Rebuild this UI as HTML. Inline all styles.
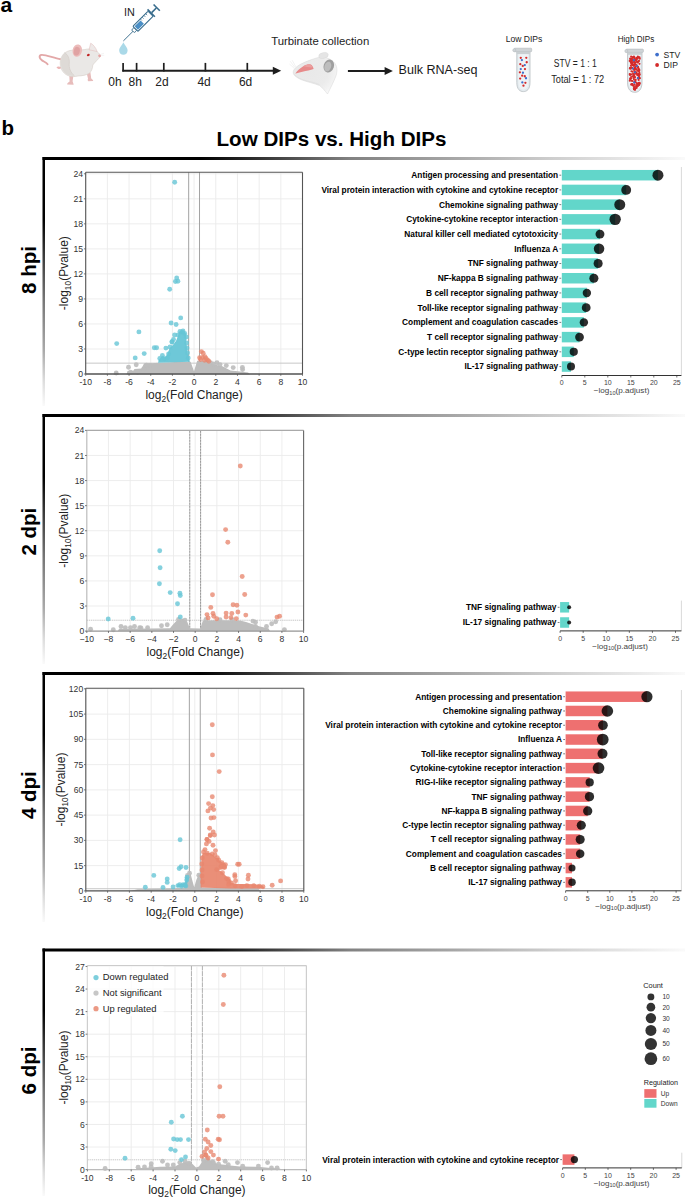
<!DOCTYPE html><html><head><meta charset="utf-8"><style>html,body{margin:0;padding:0;background:#fff;}svg{display:block;}</style></head><body>
<svg width="685" height="1200" viewBox="0 0 685 1200" font-family='"Liberation Sans", sans-serif'>
<defs>
<linearGradient id="gh" x1="0" y1="0" x2="1" y2="0"><stop offset="0" stop-color="#000"/><stop offset="0.245" stop-color="#000"/><stop offset="0.338" stop-color="#333"/><stop offset="0.479" stop-color="#828282"/><stop offset="0.634" stop-color="#a5a5a5"/><stop offset="0.79" stop-color="#cdcdcd"/><stop offset="0.946" stop-color="#eeeeee"/><stop offset="1" stop-color="#fafafa"/></linearGradient>
<linearGradient id="gv" x1="0" y1="0" x2="0" y2="1"><stop offset="0" stop-color="#000"/><stop offset="0.25" stop-color="#000"/><stop offset="0.375" stop-color="#333"/><stop offset="0.577" stop-color="#777"/><stop offset="0.778" stop-color="#aaa"/><stop offset="0.9" stop-color="#ddd"/><stop offset="1" stop-color="#fafafa"/></linearGradient>
</defs>
<rect width="685" height="1200" fill="#fff"/>
<text x="0.4" y="12.3" font-size="21" text-anchor="start" font-weight="700" fill="#000" >a</text>
<g>
<path d="M60.5,59.2 C54,58.4 46.5,54.6 41.6,54.9 C38.6,55.3 39.2,58.6 42,60.4 C44.2,61.8 46.3,62.5 47.6,64.3" fill="none" stroke="#e3a8a8" stroke-width="1.9" stroke-linecap="round"/>
<path d="M56.5,67.2 C57.5,66.2 60,66.3 61.2,67.4 L60.5,68.8 C59,69.2 57.2,68.8 56.5,67.2 Z" fill="#eab5b5"/>
<path d="M69.3,75 L69.6,81.5 C68.2,82.4 66.8,83.6 67.2,84.6 L73.6,84.8 C73.6,83.5 72.8,82.3 72.6,81.3 L73.4,75.5 Z" fill="#e7bcbb"/>
<path d="M86.6,73 L88,78.6 C87.6,79.8 87.5,80.8 88.4,81.2 L93.2,81.1 C93.1,80.2 92.3,79.4 91.2,78.6 L90.4,72.3 Z" fill="#e7bcbb"/>
<path d="M60.2,63 C60.2,55.5 65.5,50.5 72.5,50.2 C77,50 81,50.2 84.5,49.6 C87.5,48.8 91,48.6 94,49.8 C96.5,50.8 98.5,52.6 99.6,54.2 C100.6,55.2 100.8,56.2 100.2,57 C99,58.2 97.6,59.3 96.5,60.8 C95,62.6 93.6,63.6 92.8,65 C92.6,68.5 91.5,71.5 89,73.4 C86,75.3 82,75.8 78,76 C75,76.6 72.5,76.8 70,76.2 C64,74.8 60.2,69.5 60.2,63 Z" fill="#eae8e6" stroke="#d6cfc8" stroke-width="0.6"/>
<path d="M60.8,63 C60.8,69.2 64.5,74.2 70,75.6 C72,76 73.5,76 74.5,75.8 C70.5,72.5 68.8,68 69.3,63 C69.8,58.5 67.8,54.5 64.6,52.6 C62.2,55 60.8,58.5 60.8,63 Z" fill="#dedad6"/>
<path d="M64.6,52.6 C67.8,54.5 69.8,58.5 69.3,63 C68.8,68 70.5,72.5 74.5,75.8" fill="none" stroke="#cec7c0" stroke-width="0.5"/>
<path d="M89.1,49.8 L90.7,43.2 C93.3,44.6 95.8,47.6 97.1,51.5 Z" fill="#eee9e8" stroke="#e2c3c1" stroke-width="0.6"/>
<ellipse cx="77.3" cy="50.6" rx="4.7" ry="6.2" transform="rotate(12 77.3 50.6)" fill="#ecbcbb"/>
<ellipse cx="76.8" cy="51.2" rx="3" ry="4.4" transform="rotate(12 76.8 51.2)" fill="#e0a3a3"/>
<ellipse cx="88.3" cy="55" rx="1.5" ry="1.1" transform="rotate(-20 88.3 55)" fill="#c02424"/>
<circle cx="99.6" cy="55.8" r="1.4" fill="#e6a3a3"/>
<path d="M100.5,54.5 L104,53.2 M100.6,55.6 L104.3,55.3" stroke="#e4e4e4" stroke-width="0.4"/>
</g>
<text x="124.0" y="16.4" font-size="10.8" text-anchor="start" font-weight="400" fill="#222" >IN</text>
<g transform="translate(123.4,40.9) rotate(-45)">
<line x1="0" y1="0" x2="14" y2="0" stroke="#386c8c" stroke-width="0.9"/>
<rect x="13.5" y="-2" width="3.5" height="4" rx="1" fill="#fff" stroke="#386c8c" stroke-width="0.9"/>
<rect x="17" y="-3.6" width="21.5" height="7.2" rx="1" fill="#fff" stroke="#386c8c" stroke-width="1.1"/>
<rect x="18.2" y="-2.4" width="8.4" height="4.8" fill="#4b8fc6"/>
<line x1="27.5" y1="-3.6" x2="27.5" y2="-1.4" stroke="#386c8c" stroke-width="0.7"/>
<line x1="30" y1="-3.6" x2="30" y2="-1.4" stroke="#386c8c" stroke-width="0.7"/>
<line x1="32.5" y1="-3.6" x2="32.5" y2="-1.4" stroke="#386c8c" stroke-width="0.7"/>
<line x1="35" y1="-3.6" x2="35" y2="-1.4" stroke="#386c8c" stroke-width="0.7"/>
<rect x="38.5" y="-5.2" width="1.6" height="10.4" fill="#386c8c"/>
<rect x="40" y="-0.8" width="6.5" height="1.6" fill="#386c8c"/>
<rect x="46.3" y="-4.4" width="1.6" height="8.8" fill="#386c8c"/>
</g>
<path d="M123.4,42.3 C124.5,45 127.6,47.3 127.6,50.4 C127.6,53 125.7,54.7 123.4,54.7 C121.1,54.7 119.2,53 119.2,50.4 C119.2,47.3 122.3,45 123.4,42.3 Z" fill="#aad9e8"/>
<line x1="122.3" y1="70.7" x2="274" y2="70.7" stroke="#1e1e1e" stroke-width="2"/>
<path d="M272.8,66.8 L281.2,70.7 L272.8,74.8 Z" fill="#1e1e1e"/>
<line x1="123.1" y1="62.9" x2="123.1" y2="71.5" stroke="#1e1e1e" stroke-width="1.7"/>
<line x1="136.6" y1="62.9" x2="136.6" y2="71.5" stroke="#1e1e1e" stroke-width="1.7"/>
<line x1="163.8" y1="62.9" x2="163.8" y2="71.5" stroke="#1e1e1e" stroke-width="1.7"/>
<line x1="205.4" y1="62.9" x2="205.4" y2="71.5" stroke="#1e1e1e" stroke-width="1.7"/>
<line x1="247.3" y1="62.9" x2="247.3" y2="71.5" stroke="#1e1e1e" stroke-width="1.7"/>
<text x="115" y="85.5" font-size="12" text-anchor="middle" font-weight="400" fill="#222" >0h</text>
<text x="135.3" y="85.5" font-size="12" text-anchor="middle" font-weight="400" fill="#222" >8h</text>
<text x="161.9" y="85.5" font-size="12" text-anchor="middle" font-weight="400" fill="#222" >2d</text>
<text x="204.1" y="85.5" font-size="12" text-anchor="middle" font-weight="400" fill="#222" >4d</text>
<text x="245.6" y="85.5" font-size="12" text-anchor="middle" font-weight="400" fill="#222" >6d</text>
<text x="320.2" y="45.4" font-size="11.36" text-anchor="middle" font-weight="400" fill="#222" >Turbinate collection</text>
<defs><radialGradient id="hg" cx="0.35" cy="0.4" r="0.75"><stop offset="0" stop-color="#e9e9e9"/><stop offset="0.6" stop-color="#ebebeb"/><stop offset="0.85" stop-color="#f3f3f3"/><stop offset="1" stop-color="#fdfdfd"/></radialGradient></defs>
<path d="M293.2,71.8 C293.4,69.6 296,67 299.5,64.8 C303,62.8 307,61.2 311,59.8 C314.5,58.6 317.5,57.6 320,57.2 C325.5,56.6 331.5,59 335,63.5 C337.8,67.5 337.2,73 335.5,77 C333.5,82 330.5,88 327.5,94 C324.5,90.5 322.5,87.5 319.5,85.5 C314,83.2 307,82 301.5,79.8 C297.8,78.2 295,76.3 293.8,74.5 C293.2,73.6 293.1,72.6 293.2,71.8 Z" fill="url(#hg)" stroke="#d7d7d7" stroke-width="0.5"/>
<path d="M294,74.3 C297,77.3 301,79.3 306,80.6 C310,81.6 315,82.6 319.5,84.6" fill="none" stroke="#dadada" stroke-width="0.5"/>
<ellipse cx="323.5" cy="55.5" rx="4.8" ry="2.9" transform="rotate(-12 323.5 55.5)" fill="#e5e5e5" stroke="#d5d5d5" stroke-width="0.4"/>
<ellipse cx="328.8" cy="66" rx="5.2" ry="6.6" transform="rotate(18 328.8 66)" fill="#9f9f9f"/>
<ellipse cx="327.8" cy="66.6" rx="3.3" ry="5" transform="rotate(18 327.8 66.6)" fill="#bdbdbd"/>
<path d="M295.3,73.4 C297.5,70.6 300.5,67.8 304,65.8 C306.5,64.5 309,64 310.8,64.6 C312.3,65.6 313.4,67.3 313.6,69 C310.5,70.2 306.5,70.8 302.5,71.7 C299.5,72.4 297.2,73.3 295.3,73.4 Z" fill="#e78a8a"/>
<path d="M303.5,66.3 C306,64.8 308.5,64.2 310.5,64.8 C311.5,65.5 312.2,66.4 312.5,67.4 C309.5,67.6 306.5,67.2 303.5,66.3 Z" fill="#eba0a0"/>
<path d="M290.2,61.2 L295,67.6 M292.2,60.2 L295.8,66.8 M289.5,64 L294.5,68.6" stroke="#e2e2e2" stroke-width="0.45"/>
<line x1="347.9" y1="71" x2="386" y2="71" stroke="#1e1e1e" stroke-width="2"/>
<path d="M384.6,67.1 L392.9,71 L384.6,75 Z" fill="#1e1e1e"/>
<text x="398.6" y="74.4" font-size="12.55" text-anchor="start" font-weight="400" fill="#1a1a1a" >Bulk RNA-seq</text>
<text x="524.0" y="42.1" font-size="8.55" text-anchor="middle" font-weight="400" fill="#222" >Low DIPs</text>
<path d="M516.8,51.7 L516.8,82.35999999999996 C516.8,89.61999999999999 520.0999999999999,91.6 523.4,91.6 C526.7,91.6 530,89.61999999999999 530,82.35999999999996 L530,51.7 Z" fill="#e3eaee" stroke="#b7bec2" stroke-width="0.8"/>
<path d="M518.4,53.5 L518.4,82.35999999999996 C518.4,87.63999999999999 520.76,89.8 523.4,89.8 C526.04,89.8 528.4,87.63999999999999 528.4,82.35999999999996 L528.4,53.5 Z" fill="#eef3f6"/>
<rect x="514.1" y="48.2" width="17.600000000000023" height="3.5" rx="0.8" fill="#cfd4d7" stroke="#b3b9bc" stroke-width="0.6"/>
<ellipse cx="514.3000000000001" cy="50.25" rx="1.5" ry="1.6" fill="#cfd4d7" stroke="#b3b9bc" stroke-width="0.5"/>
<rect x="516.8" y="51.7" width="13.200000000000045" height="2.4" fill="#c9cfd2"/>
<circle cx="520.76" cy="57.85" r="1.15" fill="#d52b2b"/>
<circle cx="526.28" cy="57.85" r="1.15" fill="#d52b2b"/>
<circle cx="526.71" cy="62.23" r="1.15" fill="#d52b2b"/>
<circle cx="520.32" cy="64.15" r="1.15" fill="#d52b2b"/>
<circle cx="522.77" cy="65.90" r="1.15" fill="#d52b2b"/>
<circle cx="524.96" cy="69.06" r="1.15" fill="#d52b2b"/>
<circle cx="519.88" cy="72.30" r="1.15" fill="#d52b2b"/>
<circle cx="522.16" cy="75.63" r="1.15" fill="#d52b2b"/>
<circle cx="524.79" cy="76.24" r="1.15" fill="#d52b2b"/>
<circle cx="520.15" cy="78.60" r="1.15" fill="#d52b2b"/>
<circle cx="525.40" cy="82.81" r="1.15" fill="#d52b2b"/>
<circle cx="523.47" cy="85.70" r="1.15" fill="#d52b2b"/>
<circle cx="521.90" cy="60.04" r="1.15" fill="#3e6fcc"/>
<circle cx="524.79" cy="65.03" r="1.15" fill="#3e6fcc"/>
<circle cx="520.76" cy="69.06" r="1.15" fill="#3e6fcc"/>
<circle cx="522.95" cy="72.74" r="1.15" fill="#3e6fcc"/>
<circle cx="526.01" cy="78.25" r="1.15" fill="#3e6fcc"/>
<circle cx="522.34" cy="82.46" r="1.15" fill="#3e6fcc"/>
<text x="575.3" y="66.7" font-size="10" text-anchor="middle" font-weight="400" fill="#222" textLength="42.9" lengthAdjust="spacingAndGlyphs">STV = 1 : 1</text>
<text x="577.7" y="83.3" font-size="10.2" text-anchor="middle" font-weight="400" fill="#222" textLength="53" lengthAdjust="spacingAndGlyphs">Total = 1 : 72</text>
<text x="636.0" y="42.0" font-size="8.3" text-anchor="middle" font-weight="400" fill="#222" textLength="36.6" lengthAdjust="spacingAndGlyphs">High DIPs</text>
<path d="M627.5,52.4 L627.5,82.15 C627.5,90.125 631.125,92.3 634.75,92.3 C638.375,92.3 642,90.125 642,82.15 L642,52.4 Z" fill="#e3eaee" stroke="#b7bec2" stroke-width="0.8"/>
<path d="M629.1,54.199999999999996 L629.1,82.15 C629.1,87.95 631.85,90.5 634.75,90.5 C637.65,90.5 640.4,87.95 640.4,82.15 L640.4,54.199999999999996 Z" fill="#eef3f6"/>
<rect x="626.1" y="49.1" width="17.299999999999955" height="3.299999999999997" rx="0.8" fill="#cfd4d7" stroke="#b3b9bc" stroke-width="0.6"/>
<ellipse cx="626.3000000000001" cy="51.05" rx="1.5" ry="1.6" fill="#cfd4d7" stroke="#b3b9bc" stroke-width="0.5"/>
<rect x="627.5" y="52.4" width="14.5" height="2.4" fill="#c9cfd2"/>
<circle cx="631.12" cy="67.35" r="1.05" fill="#d42b2b"/>
<circle cx="630.30" cy="78.31" r="1.05" fill="#d42b2b"/>
<circle cx="633.35" cy="74.45" r="1.05" fill="#d42b2b"/>
<circle cx="634.83" cy="58.44" r="1.05" fill="#d42b2b"/>
<circle cx="634.06" cy="57.76" r="1.05" fill="#d42b2b"/>
<circle cx="630.49" cy="58.84" r="1.05" fill="#d42b2b"/>
<circle cx="638.15" cy="70.72" r="1.05" fill="#d42b2b"/>
<circle cx="631.87" cy="60.65" r="1.05" fill="#d42b2b"/>
<circle cx="639.41" cy="77.52" r="1.05" fill="#d42b2b"/>
<circle cx="633.68" cy="75.83" r="1.05" fill="#d42b2b"/>
<circle cx="634.05" cy="89.20" r="1.05" fill="#d42b2b"/>
<circle cx="633.01" cy="85.26" r="1.05" fill="#d42b2b"/>
<circle cx="630.78" cy="61.33" r="1.05" fill="#d42b2b"/>
<circle cx="638.04" cy="66.83" r="1.05" fill="#d42b2b"/>
<circle cx="635.60" cy="62.55" r="1.05" fill="#d42b2b"/>
<circle cx="633.42" cy="77.90" r="1.05" fill="#d42b2b"/>
<circle cx="630.20" cy="74.85" r="1.05" fill="#d42b2b"/>
<circle cx="631.69" cy="58.50" r="1.05" fill="#d42b2b"/>
<circle cx="634.00" cy="79.29" r="1.05" fill="#d42b2b"/>
<circle cx="635.64" cy="67.02" r="1.05" fill="#d42b2b"/>
<circle cx="632.67" cy="71.68" r="1.05" fill="#d42b2b"/>
<circle cx="636.82" cy="83.11" r="1.05" fill="#d42b2b"/>
<circle cx="635.52" cy="64.68" r="1.05" fill="#d42b2b"/>
<circle cx="638.65" cy="74.09" r="1.05" fill="#d42b2b"/>
<circle cx="632.54" cy="80.94" r="1.05" fill="#d42b2b"/>
<circle cx="634.24" cy="89.34" r="1.05" fill="#d42b2b"/>
<circle cx="637.42" cy="70.51" r="1.05" fill="#d42b2b"/>
<circle cx="634.64" cy="61.59" r="1.05" fill="#d42b2b"/>
<circle cx="636.50" cy="57.81" r="1.05" fill="#d42b2b"/>
<circle cx="635.51" cy="82.11" r="1.05" fill="#d42b2b"/>
<circle cx="633.39" cy="85.83" r="1.05" fill="#d42b2b"/>
<circle cx="635.73" cy="79.79" r="1.05" fill="#d42b2b"/>
<circle cx="634.29" cy="75.93" r="1.05" fill="#d42b2b"/>
<circle cx="638.89" cy="84.64" r="1.05" fill="#d42b2b"/>
<circle cx="636.46" cy="72.38" r="1.05" fill="#d42b2b"/>
<circle cx="636.85" cy="58.53" r="1.05" fill="#d42b2b"/>
<circle cx="639.88" cy="78.18" r="1.05" fill="#d42b2b"/>
<circle cx="632.52" cy="84.03" r="1.05" fill="#d42b2b"/>
<circle cx="636.50" cy="69.42" r="1.05" fill="#d42b2b"/>
<circle cx="634.35" cy="57.26" r="1.05" fill="#d42b2b"/>
<circle cx="630.77" cy="62.13" r="1.05" fill="#d42b2b"/>
<circle cx="637.54" cy="58.47" r="1.05" fill="#d42b2b"/>
<circle cx="632.13" cy="60.83" r="1.05" fill="#d42b2b"/>
<circle cx="638.61" cy="69.60" r="1.05" fill="#d42b2b"/>
<circle cx="634.22" cy="59.20" r="1.05" fill="#d42b2b"/>
<circle cx="638.74" cy="74.91" r="1.05" fill="#d42b2b"/>
<circle cx="638.54" cy="83.95" r="1.05" fill="#d42b2b"/>
<circle cx="633.87" cy="65.83" r="1.05" fill="#d42b2b"/>
<circle cx="638.75" cy="68.52" r="1.05" fill="#d42b2b"/>
<circle cx="633.84" cy="88.58" r="1.05" fill="#d42b2b"/>
<circle cx="631.96" cy="62.40" r="1.05" fill="#d42b2b"/>
<circle cx="634.59" cy="64.32" r="1.05" fill="#d42b2b"/>
<circle cx="632.28" cy="76.24" r="1.05" fill="#d42b2b"/>
<circle cx="633.91" cy="56.64" r="1.05" fill="#d42b2b"/>
<circle cx="635.44" cy="68.87" r="1.05" fill="#d42b2b"/>
<circle cx="635.30" cy="88.43" r="1.05" fill="#d42b2b"/>
<circle cx="635.97" cy="73.77" r="1.05" fill="#d42b2b"/>
<circle cx="630.11" cy="79.15" r="1.05" fill="#d42b2b"/>
<circle cx="636.41" cy="86.63" r="1.05" fill="#d42b2b"/>
<circle cx="636.94" cy="85.80" r="1.05" fill="#d42b2b"/>
<circle cx="633.70" cy="69.64" r="1.05" fill="#d42b2b"/>
<circle cx="636.15" cy="59.97" r="1.05" fill="#d42b2b"/>
<circle cx="630.25" cy="58.59" r="1.05" fill="#d42b2b"/>
<circle cx="631.24" cy="63.49" r="1.05" fill="#d42b2b"/>
<circle cx="630.10" cy="67.89" r="1.05" fill="#d42b2b"/>
<circle cx="631.12" cy="56.51" r="1.05" fill="#d42b2b"/>
<circle cx="633.33" cy="59.90" r="1.05" fill="#d42b2b"/>
<circle cx="638.64" cy="57.35" r="1.05" fill="#d42b2b"/>
<circle cx="631.09" cy="77.07" r="1.05" fill="#d42b2b"/>
<circle cx="633.16" cy="64.95" r="1.05" fill="#d42b2b"/>
<circle cx="630.83" cy="68.70" r="1.05" fill="#d42b2b"/>
<circle cx="639.09" cy="84.94" r="1.05" fill="#d42b2b"/>
<circle cx="634.58" cy="72.11" r="1.05" fill="#d42b2b"/>
<circle cx="630.61" cy="59.38" r="1.05" fill="#d42b2b"/>
<circle cx="632.30" cy="67.98" r="1.05" fill="#d42b2b"/>
<circle cx="631.38" cy="84.27" r="1.05" fill="#d42b2b"/>
<circle cx="639.44" cy="57.27" r="1.05" fill="#d42b2b"/>
<circle cx="631.07" cy="74.20" r="1.05" fill="#d42b2b"/>
<circle cx="629.83" cy="74.70" r="1.05" fill="#d42b2b"/>
<circle cx="639.73" cy="74.19" r="1.05" fill="#d42b2b"/>
<circle cx="636.32" cy="85.42" r="1.05" fill="#d42b2b"/>
<circle cx="633.36" cy="65.25" r="1.05" fill="#d42b2b"/>
<circle cx="637.58" cy="62.10" r="1.05" fill="#d42b2b"/>
<circle cx="637.65" cy="74.34" r="1.05" fill="#d42b2b"/>
<circle cx="631.87" cy="67.54" r="1.05" fill="#d42b2b"/>
<circle cx="639.79" cy="83.69" r="1.05" fill="#d42b2b"/>
<circle cx="637.38" cy="85.06" r="1.05" fill="#d42b2b"/>
<circle cx="637.24" cy="83.91" r="1.05" fill="#d42b2b"/>
<circle cx="634.93" cy="64.10" r="1.05" fill="#d42b2b"/>
<circle cx="629.85" cy="68.41" r="1.05" fill="#d42b2b"/>
<circle cx="632.46" cy="57.44" r="1.05" fill="#d42b2b"/>
<circle cx="636.75" cy="65.18" r="1.05" fill="#d42b2b"/>
<circle cx="634.61" cy="88.54" r="1.05" fill="#d42b2b"/>
<circle cx="636.60" cy="87.89" r="1.05" fill="#d42b2b"/>
<circle cx="634.38" cy="88.49" r="1.05" fill="#d42b2b"/>
<circle cx="631.91" cy="63.89" r="1.05" fill="#d42b2b"/>
<circle cx="631.68" cy="63.09" r="1.05" fill="#d42b2b"/>
<circle cx="638.91" cy="77.41" r="1.05" fill="#d42b2b"/>
<circle cx="634.56" cy="84.65" r="1.05" fill="#d42b2b"/>
<circle cx="637.87" cy="78.37" r="1.05" fill="#d42b2b"/>
<circle cx="636.42" cy="59.34" r="1.05" fill="#d42b2b"/>
<circle cx="636.26" cy="86.98" r="1.05" fill="#d42b2b"/>
<circle cx="634.52" cy="81.63" r="1.05" fill="#d42b2b"/>
<circle cx="637.76" cy="62.48" r="1.05" fill="#d42b2b"/>
<circle cx="637.88" cy="67.64" r="1.05" fill="#d42b2b"/>
<circle cx="634.56" cy="89.05" r="1.05" fill="#d42b2b"/>
<circle cx="639.40" cy="69.95" r="1.05" fill="#d42b2b"/>
<circle cx="631.32" cy="80.78" r="1.05" fill="#d42b2b"/>
<circle cx="631.12" cy="60.76" r="1.05" fill="#d42b2b"/>
<circle cx="636.47" cy="86.81" r="1.05" fill="#d42b2b"/>
<circle cx="638.15" cy="61.40" r="1.05" fill="#d42b2b"/>
<circle cx="634.96" cy="89.34" r="1.05" fill="#d42b2b"/>
<circle cx="635.26" cy="68.24" r="1.05" fill="#d42b2b"/>
<circle cx="629.70" cy="60.89" r="1.05" fill="#d42b2b"/>
<circle cx="635.03" cy="89.02" r="1.05" fill="#d42b2b"/>
<circle cx="639.26" cy="74.14" r="1.05" fill="#d42b2b"/>
<circle cx="638.62" cy="71.03" r="1.05" fill="#d42b2b"/>
<circle cx="631.83" cy="84.18" r="1.05" fill="#d42b2b"/>
<circle cx="632.60" cy="64.94" r="1.05" fill="#d42b2b"/>
<circle cx="635.65" cy="64.56" r="1.05" fill="#d42b2b"/>
<circle cx="633.91" cy="65.19" r="1.05" fill="#d42b2b"/>
<circle cx="639.01" cy="60.89" r="1.05" fill="#d42b2b"/>
<circle cx="634.31" cy="68.35" r="1.05" fill="#d42b2b"/>
<circle cx="638.95" cy="76.04" r="1.05" fill="#d42b2b"/>
<circle cx="639.09" cy="70.59" r="1.05" fill="#d42b2b"/>
<circle cx="635.08" cy="73.31" r="1.05" fill="#d42b2b"/>
<circle cx="629.74" cy="74.04" r="1.05" fill="#d42b2b"/>
<circle cx="631.45" cy="71.24" r="1.05" fill="#d42b2b"/>
<circle cx="637.86" cy="56.63" r="1.05" fill="#d42b2b"/>
<circle cx="634.47" cy="62.27" r="1.05" fill="#d42b2b"/>
<circle cx="635.34" cy="80.79" r="1.05" fill="#d42b2b"/>
<circle cx="634.94" cy="67.42" r="1.05" fill="#d42b2b"/>
<circle cx="637.71" cy="75.11" r="1.05" fill="#d42b2b"/>
<circle cx="635.38" cy="60.05" r="1.05" fill="#d42b2b"/>
<circle cx="632.43" cy="64.82" r="1.05" fill="#d42b2b"/>
<circle cx="634.83" cy="82.37" r="1.05" fill="#d42b2b"/>
<circle cx="637.45" cy="75.32" r="1.05" fill="#d42b2b"/>
<circle cx="634.46" cy="87.07" r="1.05" fill="#d42b2b"/>
<circle cx="634.81" cy="77.02" r="1.05" fill="#d42b2b"/>
<circle cx="636.75" cy="73.66" r="1.05" fill="#d42b2b"/>
<circle cx="635.10" cy="71.65" r="1.05" fill="#d42b2b"/>
<circle cx="639.34" cy="72.51" r="1.05" fill="#d42b2b"/>
<circle cx="638.67" cy="79.92" r="1.05" fill="#d42b2b"/>
<circle cx="633.91" cy="88.06" r="1.05" fill="#d42b2b"/>
<circle cx="639.36" cy="75.24" r="1.05" fill="#d42b2b"/>
<circle cx="631.37" cy="84.64" r="1.05" fill="#d42b2b"/>
<circle cx="634.15" cy="60.57" r="1.05" fill="#d42b2b"/>
<circle cx="632.05" cy="58.93" r="1.05" fill="#d42b2b"/>
<circle cx="636.51" cy="58.95" r="1.05" fill="#d42b2b"/>
<circle cx="638.88" cy="82.76" r="1.05" fill="#d42b2b"/>
<circle cx="637.00" cy="61.67" r="1.05" fill="#d42b2b"/>
<circle cx="631.04" cy="78.62" r="1.05" fill="#d42b2b"/>
<circle cx="637.96" cy="86.07" r="1.05" fill="#d42b2b"/>
<circle cx="639.46" cy="63.86" r="1.05" fill="#d42b2b"/>
<circle cx="634.62" cy="69.84" r="1.05" fill="#d42b2b"/>
<circle cx="635.08" cy="89.66" r="1.05" fill="#d42b2b"/>
<circle cx="634.04" cy="61.91" r="1.05" fill="#d42b2b"/>
<circle cx="633.08" cy="73.77" r="1.05" fill="#d42b2b"/>
<circle cx="632.86" cy="63.06" r="1.05" fill="#d42b2b"/>
<circle cx="629.75" cy="80.69" r="1.05" fill="#d42b2b"/>
<circle cx="634.13" cy="75.06" r="1.05" fill="#d42b2b"/>
<circle cx="633.00" cy="57.11" r="1.05" fill="#d42b2b"/>
<circle cx="634.88" cy="77.40" r="1.05" fill="#d42b2b"/>
<circle cx="639.79" cy="58.65" r="1.05" fill="#d42b2b"/>
<circle cx="639.66" cy="82.91" r="1.05" fill="#d42b2b"/>
<circle cx="632.31" cy="60.01" r="1.05" fill="#d42b2b"/>
<circle cx="637.65" cy="57.83" r="1.05" fill="#d42b2b"/>
<circle cx="630.90" cy="65.56" r="1.05" fill="#d42b2b"/>
<circle cx="639.03" cy="70.65" r="1.05" fill="#d42b2b"/>
<circle cx="632.24" cy="83.94" r="1.05" fill="#d42b2b"/>
<circle cx="633.87" cy="60.26" r="1.15" fill="#3e6fcc"/>
<circle cx="636.83" cy="66.06" r="1.15" fill="#3e6fcc"/>
<circle cx="632.99" cy="68.58" r="1.15" fill="#3e6fcc"/>
<circle cx="634.96" cy="72.30" r="1.15" fill="#3e6fcc"/>
<circle cx="637.92" cy="78.10" r="1.15" fill="#3e6fcc"/>
<circle cx="634.31" cy="82.48" r="1.15" fill="#3e6fcc"/>
<circle cx="657.1" cy="54.6" r="1.9" fill="#3e6fcc"/>
<circle cx="657.1" cy="65" r="1.9" fill="#d42b2b"/>
<text x="663.6" y="58.2" font-size="8.6" text-anchor="start" font-weight="400" fill="#222" >STV</text>
<text x="663.6" y="68.4" font-size="8.6" text-anchor="start" font-weight="400" fill="#222" >DIP</text>
<text x="1.50" y="135.00" font-size="20.5" text-anchor="start" font-weight="700" fill="#000" >b</text>
<text x="331.50" y="145.60" font-size="20.6" text-anchor="middle" font-weight="700" fill="#000" >Low DIPs vs. High DIPs</text>
<rect x="42.5" y="157" width="642.5" height="3" fill="url(#gh)"/>
<rect x="42.5" y="157" width="2.5" height="249" fill="url(#gv)"/>
<rect x="42.5" y="414" width="642.5" height="3" fill="url(#gh)"/>
<rect x="42.5" y="414" width="2.5" height="250" fill="url(#gv)"/>
<rect x="42.5" y="672" width="642.5" height="3" fill="url(#gh)"/>
<rect x="42.5" y="672" width="2.5" height="250" fill="url(#gv)"/>
<rect x="42.5" y="948.5" width="642.5" height="3" fill="url(#gh)"/>
<rect x="42.5" y="948.5" width="2.5" height="247.5" fill="url(#gv)"/>
<text transform="translate(36.2,270) rotate(-90)" font-size="20.5" font-weight="700" text-anchor="middle">8 hpi</text>
<text transform="translate(36.2,531.6) rotate(-90)" font-size="20.5" font-weight="700" text-anchor="middle">2 dpi</text>
<text transform="translate(36.2,795.2) rotate(-90)" font-size="20.5" font-weight="700" text-anchor="middle">4 dpi</text>
<text transform="translate(36.2,1070.5) rotate(-90)" font-size="20.5" font-weight="700" text-anchor="middle">6 dpi</text>
<line x1="85.70" y1="172.30" x2="85.70" y2="374.00" stroke="#ebebeb" stroke-width="0.9"/>
<line x1="107.38" y1="172.30" x2="107.38" y2="374.00" stroke="#ebebeb" stroke-width="0.9"/>
<line x1="129.06" y1="172.30" x2="129.06" y2="374.00" stroke="#ebebeb" stroke-width="0.9"/>
<line x1="150.74" y1="172.30" x2="150.74" y2="374.00" stroke="#ebebeb" stroke-width="0.9"/>
<line x1="172.42" y1="172.30" x2="172.42" y2="374.00" stroke="#ebebeb" stroke-width="0.9"/>
<line x1="194.10" y1="172.30" x2="194.10" y2="374.00" stroke="#ebebeb" stroke-width="0.9"/>
<line x1="215.78" y1="172.30" x2="215.78" y2="374.00" stroke="#ebebeb" stroke-width="0.9"/>
<line x1="237.46" y1="172.30" x2="237.46" y2="374.00" stroke="#ebebeb" stroke-width="0.9"/>
<line x1="259.14" y1="172.30" x2="259.14" y2="374.00" stroke="#ebebeb" stroke-width="0.9"/>
<line x1="280.82" y1="172.30" x2="280.82" y2="374.00" stroke="#ebebeb" stroke-width="0.9"/>
<line x1="302.50" y1="172.30" x2="302.50" y2="374.00" stroke="#ebebeb" stroke-width="0.9"/>
<line x1="85.70" y1="374.00" x2="302.50" y2="374.00" stroke="#ebebeb" stroke-width="0.9"/>
<line x1="85.70" y1="348.97" x2="302.50" y2="348.97" stroke="#ebebeb" stroke-width="0.9"/>
<line x1="85.70" y1="323.95" x2="302.50" y2="323.95" stroke="#ebebeb" stroke-width="0.9"/>
<line x1="85.70" y1="298.92" x2="302.50" y2="298.92" stroke="#ebebeb" stroke-width="0.9"/>
<line x1="85.70" y1="273.90" x2="302.50" y2="273.90" stroke="#ebebeb" stroke-width="0.9"/>
<line x1="85.70" y1="248.87" x2="302.50" y2="248.87" stroke="#ebebeb" stroke-width="0.9"/>
<line x1="85.70" y1="223.84" x2="302.50" y2="223.84" stroke="#ebebeb" stroke-width="0.9"/>
<line x1="85.70" y1="198.82" x2="302.50" y2="198.82" stroke="#ebebeb" stroke-width="0.9"/>
<line x1="85.70" y1="173.79" x2="302.50" y2="173.79" stroke="#ebebeb" stroke-width="0.9"/>
<line x1="85.70" y1="363.15" x2="302.50" y2="363.15" stroke="#c8c8c8" stroke-width="1" />
<line x1="188.68" y1="172.30" x2="188.68" y2="374.00" stroke="#a3a3a3" stroke-width="1" />
<line x1="199.52" y1="172.30" x2="199.52" y2="374.00" stroke="#a3a3a3" stroke-width="1" />
<polygon points="113.50,374.40 115.00,371.60 117.50,371.60 119.00,374.40" fill="#bdbdbd" fill-opacity="1"/>
<polygon points="126.50,374.40 127.50,371.00 133.00,371.00 134.50,369.00 141.50,368.50 142.80,366.00 144.00,363.60 150.00,363.30 160.00,362.80 170.00,362.20 180.00,361.80 190.60,361.80 194.00,371.20 197.20,360.80 207.00,360.80 209.40,363.20 213.80,364.30 219.60,365.80 222.50,366.20 227.60,369.10 230.50,370.50 240.00,371.50 248.10,372.40 250.00,374.40" fill="#bdbdbd" fill-opacity="1"/>
<circle cx="128.50" cy="367.20" r="2.45" fill="#bdbdbd" fill-opacity="0.9"/>
<circle cx="136.20" cy="364.70" r="2.45" fill="#bdbdbd" fill-opacity="0.9"/>
<circle cx="130.70" cy="372.30" r="2.45" fill="#bdbdbd" fill-opacity="0.9"/>
<circle cx="143.70" cy="369.00" r="2.45" fill="#bdbdbd" fill-opacity="0.9"/>
<circle cx="116.20" cy="373.00" r="2.45" fill="#bdbdbd" fill-opacity="0.9"/>
<circle cx="137.60" cy="372.30" r="2.45" fill="#bdbdbd" fill-opacity="0.9"/>
<circle cx="217.00" cy="362.80" r="2.45" fill="#bdbdbd" fill-opacity="0.9"/>
<circle cx="226.30" cy="365.60" r="2.45" fill="#bdbdbd" fill-opacity="0.9"/>
<circle cx="233.20" cy="367.60" r="2.45" fill="#bdbdbd" fill-opacity="0.9"/>
<circle cx="242.40" cy="367.50" r="2.45" fill="#bdbdbd" fill-opacity="0.9"/>
<circle cx="242.60" cy="369.60" r="2.45" fill="#bdbdbd" fill-opacity="0.9"/>
<circle cx="210.50" cy="362.60" r="2.45" fill="#bdbdbd" fill-opacity="0.9"/>
<circle cx="213.50" cy="364.00" r="2.45" fill="#bdbdbd" fill-opacity="0.9"/>
<circle cx="220.00" cy="364.60" r="2.45" fill="#bdbdbd" fill-opacity="0.9"/>
<circle cx="146.50" cy="365.20" r="2.45" fill="#bdbdbd" fill-opacity="0.9"/>
<circle cx="150.00" cy="365.50" r="2.45" fill="#bdbdbd" fill-opacity="0.9"/>
<polygon points="179.20,331.60 182.10,330.50 185.80,333.00 186.50,338.10 186.10,342.50 186.90,346.90 187.60,352.70 188.40,357.10 190.00,361.80 158.00,362.80 158.80,360.00 161.50,356.50 163.00,356.00 165.00,357.50 167.00,355.00 169.70,348.00 172.50,345.50 176.00,341.00 177.70,336.70" fill="#66c5d6" fill-opacity="0.9500000000000001"/>
<circle cx="174.70" cy="182.20" r="2.45" fill="#66c5d6" fill-opacity="0.8"/>
<circle cx="176.70" cy="277.90" r="2.45" fill="#66c5d6" fill-opacity="0.8"/>
<circle cx="175.40" cy="281.50" r="2.45" fill="#66c5d6" fill-opacity="0.8"/>
<circle cx="177.90" cy="281.30" r="2.45" fill="#66c5d6" fill-opacity="0.8"/>
<circle cx="169.70" cy="289.20" r="2.45" fill="#66c5d6" fill-opacity="0.8"/>
<circle cx="180.70" cy="317.90" r="2.45" fill="#66c5d6" fill-opacity="0.8"/>
<circle cx="171.10" cy="323.00" r="2.45" fill="#66c5d6" fill-opacity="0.8"/>
<circle cx="176.10" cy="324.50" r="2.45" fill="#66c5d6" fill-opacity="0.8"/>
<circle cx="138.90" cy="331.90" r="2.45" fill="#66c5d6" fill-opacity="0.8"/>
<circle cx="116.70" cy="343.60" r="2.45" fill="#66c5d6" fill-opacity="0.8"/>
<circle cx="135.20" cy="357.90" r="2.45" fill="#66c5d6" fill-opacity="0.8"/>
<circle cx="144.20" cy="353.60" r="2.45" fill="#66c5d6" fill-opacity="0.8"/>
<circle cx="154.30" cy="347.80" r="2.45" fill="#66c5d6" fill-opacity="0.8"/>
<circle cx="156.60" cy="347.80" r="2.45" fill="#66c5d6" fill-opacity="0.8"/>
<circle cx="165.90" cy="348.10" r="2.45" fill="#66c5d6" fill-opacity="0.8"/>
<circle cx="168.60" cy="354.00" r="2.45" fill="#66c5d6" fill-opacity="0.8"/>
<circle cx="172.10" cy="342.00" r="2.45" fill="#66c5d6" fill-opacity="0.8"/>
<circle cx="170.00" cy="347.00" r="2.45" fill="#66c5d6" fill-opacity="0.8"/>
<circle cx="174.60" cy="335.00" r="2.45" fill="#66c5d6" fill-opacity="0.8"/>
<circle cx="171.90" cy="341.80" r="2.45" fill="#66c5d6" fill-opacity="0.8"/>
<circle cx="182.30" cy="332.30" r="2.45" fill="#66c5d6" fill-opacity="0.8"/>
<circle cx="184.70" cy="333.50" r="2.45" fill="#66c5d6" fill-opacity="0.8"/>
<circle cx="180.00" cy="331.50" r="2.45" fill="#66c5d6" fill-opacity="0.8"/>
<circle cx="162.40" cy="355.40" r="2.45" fill="#66c5d6" fill-opacity="0.8"/>
<circle cx="159.80" cy="358.50" r="2.45" fill="#66c5d6" fill-opacity="0.8"/>
<circle cx="164.50" cy="358.80" r="2.45" fill="#66c5d6" fill-opacity="0.8"/>
<circle cx="167.50" cy="357.80" r="2.45" fill="#66c5d6" fill-opacity="0.8"/>
<circle cx="186.30" cy="337.00" r="2.45" fill="#66c5d6" fill-opacity="0.8"/>
<circle cx="186.60" cy="343.00" r="2.45" fill="#66c5d6" fill-opacity="0.8"/>
<circle cx="187.00" cy="348.00" r="2.45" fill="#66c5d6" fill-opacity="0.8"/>
<circle cx="187.50" cy="353.00" r="2.45" fill="#66c5d6" fill-opacity="0.8"/>
<circle cx="188.20" cy="358.00" r="2.45" fill="#66c5d6" fill-opacity="0.8"/>
<circle cx="183.00" cy="331.00" r="2.45" fill="#66c5d6" fill-opacity="0.8"/>
<circle cx="178.00" cy="335.00" r="2.45" fill="#66c5d6" fill-opacity="0.8"/>
<circle cx="173.50" cy="339.50" r="2.45" fill="#66c5d6" fill-opacity="0.8"/>
<circle cx="201.40" cy="351.60" r="2.45" fill="#e8876e" fill-opacity="0.78"/>
<circle cx="203.20" cy="353.20" r="2.45" fill="#e8876e" fill-opacity="0.78"/>
<circle cx="199.60" cy="357.80" r="2.45" fill="#e8876e" fill-opacity="0.78"/>
<circle cx="202.50" cy="357.50" r="2.45" fill="#e8876e" fill-opacity="0.78"/>
<circle cx="204.90" cy="356.60" r="2.45" fill="#e8876e" fill-opacity="0.78"/>
<circle cx="207.50" cy="360.00" r="2.45" fill="#e8876e" fill-opacity="0.78"/>
<circle cx="208.80" cy="361.20" r="2.45" fill="#e8876e" fill-opacity="0.78"/>
<circle cx="204.50" cy="360.30" r="2.45" fill="#e8876e" fill-opacity="0.78"/>
<circle cx="200.50" cy="359.50" r="2.45" fill="#e8876e" fill-opacity="0.78"/>
<circle cx="206.00" cy="358.50" r="2.45" fill="#e8876e" fill-opacity="0.78"/>
<line x1="85.70" y1="172.30" x2="302.50" y2="172.30" stroke="#555" stroke-width="1.1"/>
<line x1="302.50" y1="172.30" x2="302.50" y2="374.00" stroke="#555" stroke-width="1.1"/>
<line x1="85.70" y1="374.00" x2="302.50" y2="374.00" stroke="#555" stroke-width="1.3"/>
<line x1="85.70" y1="172.30" x2="85.70" y2="374.00" stroke="#555" stroke-width="1.1"/>
<line x1="83.90" y1="374.00" x2="85.70" y2="374.00" stroke="#555" stroke-width="0.8"/>
<text x="83.10" y="377.10" font-size="8.6" text-anchor="end" font-weight="400" fill="#333" >0</text>
<line x1="83.90" y1="348.97" x2="85.70" y2="348.97" stroke="#555" stroke-width="0.8"/>
<text x="83.10" y="352.07" font-size="8.6" text-anchor="end" font-weight="400" fill="#333" >3</text>
<line x1="83.90" y1="323.95" x2="85.70" y2="323.95" stroke="#555" stroke-width="0.8"/>
<text x="83.10" y="327.05" font-size="8.6" text-anchor="end" font-weight="400" fill="#333" >6</text>
<line x1="83.90" y1="298.92" x2="85.70" y2="298.92" stroke="#555" stroke-width="0.8"/>
<text x="83.10" y="302.02" font-size="8.6" text-anchor="end" font-weight="400" fill="#333" >9</text>
<line x1="83.90" y1="273.90" x2="85.70" y2="273.90" stroke="#555" stroke-width="0.8"/>
<text x="83.10" y="277.00" font-size="8.6" text-anchor="end" font-weight="400" fill="#333" >12</text>
<line x1="83.90" y1="248.87" x2="85.70" y2="248.87" stroke="#555" stroke-width="0.8"/>
<text x="83.10" y="251.97" font-size="8.6" text-anchor="end" font-weight="400" fill="#333" >15</text>
<line x1="83.90" y1="223.84" x2="85.70" y2="223.84" stroke="#555" stroke-width="0.8"/>
<text x="83.10" y="226.94" font-size="8.6" text-anchor="end" font-weight="400" fill="#333" >18</text>
<line x1="83.90" y1="198.82" x2="85.70" y2="198.82" stroke="#555" stroke-width="0.8"/>
<text x="83.10" y="201.92" font-size="8.6" text-anchor="end" font-weight="400" fill="#333" >21</text>
<line x1="83.90" y1="173.79" x2="85.70" y2="173.79" stroke="#555" stroke-width="0.8"/>
<text x="83.10" y="176.89" font-size="8.6" text-anchor="end" font-weight="400" fill="#333" >24</text>
<line x1="85.70" y1="374.00" x2="85.70" y2="375.80" stroke="#555" stroke-width="0.8"/>
<text x="85.70" y="385.00" font-size="8.6" text-anchor="middle" font-weight="400" fill="#333" >-10</text>
<line x1="107.38" y1="374.00" x2="107.38" y2="375.80" stroke="#555" stroke-width="0.8"/>
<text x="107.38" y="385.00" font-size="8.6" text-anchor="middle" font-weight="400" fill="#333" >-8</text>
<line x1="129.06" y1="374.00" x2="129.06" y2="375.80" stroke="#555" stroke-width="0.8"/>
<text x="129.06" y="385.00" font-size="8.6" text-anchor="middle" font-weight="400" fill="#333" >-6</text>
<line x1="150.74" y1="374.00" x2="150.74" y2="375.80" stroke="#555" stroke-width="0.8"/>
<text x="150.74" y="385.00" font-size="8.6" text-anchor="middle" font-weight="400" fill="#333" >-4</text>
<line x1="172.42" y1="374.00" x2="172.42" y2="375.80" stroke="#555" stroke-width="0.8"/>
<text x="172.42" y="385.00" font-size="8.6" text-anchor="middle" font-weight="400" fill="#333" >-2</text>
<line x1="194.10" y1="374.00" x2="194.10" y2="375.80" stroke="#555" stroke-width="0.8"/>
<text x="194.10" y="385.00" font-size="8.6" text-anchor="middle" font-weight="400" fill="#333" >0</text>
<line x1="215.78" y1="374.00" x2="215.78" y2="375.80" stroke="#555" stroke-width="0.8"/>
<text x="215.78" y="385.00" font-size="8.6" text-anchor="middle" font-weight="400" fill="#333" >2</text>
<line x1="237.46" y1="374.00" x2="237.46" y2="375.80" stroke="#555" stroke-width="0.8"/>
<text x="237.46" y="385.00" font-size="8.6" text-anchor="middle" font-weight="400" fill="#333" >4</text>
<line x1="259.14" y1="374.00" x2="259.14" y2="375.80" stroke="#555" stroke-width="0.8"/>
<text x="259.14" y="385.00" font-size="8.6" text-anchor="middle" font-weight="400" fill="#333" >6</text>
<line x1="280.82" y1="374.00" x2="280.82" y2="375.80" stroke="#555" stroke-width="0.8"/>
<text x="280.82" y="385.00" font-size="8.6" text-anchor="middle" font-weight="400" fill="#333" >8</text>
<line x1="302.50" y1="374.00" x2="302.50" y2="375.80" stroke="#555" stroke-width="0.8"/>
<text x="302.50" y="385.00" font-size="8.6" text-anchor="middle" font-weight="400" fill="#333" >10</text>
<text x="194.10" y="398.60" font-size="12" text-anchor="middle" font-weight="400" fill="#222" >log<tspan font-size="8.4" dy="3">2</tspan><tspan dy="-3">(Fold Change)</tspan></text>
<text transform="translate(68.00,273.15) rotate(-90)" font-size="12" text-anchor="middle" fill="#222">-log<tspan font-size="8.4" dy="3">10</tspan><tspan dy="-3">(Pvalue)</tspan></text>
<line x1="86.80" y1="430.40" x2="86.80" y2="631.10" stroke="#ebebeb" stroke-width="0.9"/>
<line x1="108.48" y1="430.40" x2="108.48" y2="631.10" stroke="#ebebeb" stroke-width="0.9"/>
<line x1="130.16" y1="430.40" x2="130.16" y2="631.10" stroke="#ebebeb" stroke-width="0.9"/>
<line x1="151.84" y1="430.40" x2="151.84" y2="631.10" stroke="#ebebeb" stroke-width="0.9"/>
<line x1="173.52" y1="430.40" x2="173.52" y2="631.10" stroke="#ebebeb" stroke-width="0.9"/>
<line x1="195.20" y1="430.40" x2="195.20" y2="631.10" stroke="#ebebeb" stroke-width="0.9"/>
<line x1="216.88" y1="430.40" x2="216.88" y2="631.10" stroke="#ebebeb" stroke-width="0.9"/>
<line x1="238.56" y1="430.40" x2="238.56" y2="631.10" stroke="#ebebeb" stroke-width="0.9"/>
<line x1="260.24" y1="430.40" x2="260.24" y2="631.10" stroke="#ebebeb" stroke-width="0.9"/>
<line x1="281.92" y1="430.40" x2="281.92" y2="631.10" stroke="#ebebeb" stroke-width="0.9"/>
<line x1="303.60" y1="430.40" x2="303.60" y2="631.10" stroke="#ebebeb" stroke-width="0.9"/>
<line x1="86.80" y1="631.10" x2="303.60" y2="631.10" stroke="#ebebeb" stroke-width="0.9"/>
<line x1="86.80" y1="606.01" x2="303.60" y2="606.01" stroke="#ebebeb" stroke-width="0.9"/>
<line x1="86.80" y1="580.92" x2="303.60" y2="580.92" stroke="#ebebeb" stroke-width="0.9"/>
<line x1="86.80" y1="555.83" x2="303.60" y2="555.83" stroke="#ebebeb" stroke-width="0.9"/>
<line x1="86.80" y1="530.74" x2="303.60" y2="530.74" stroke="#ebebeb" stroke-width="0.9"/>
<line x1="86.80" y1="505.66" x2="303.60" y2="505.66" stroke="#ebebeb" stroke-width="0.9"/>
<line x1="86.80" y1="480.57" x2="303.60" y2="480.57" stroke="#ebebeb" stroke-width="0.9"/>
<line x1="86.80" y1="455.48" x2="303.60" y2="455.48" stroke="#ebebeb" stroke-width="0.9"/>
<line x1="86.80" y1="430.39" x2="303.60" y2="430.39" stroke="#ebebeb" stroke-width="0.9"/>
<line x1="86.80" y1="620.22" x2="303.60" y2="620.22" stroke="#c8c8c8" stroke-width="1" stroke-dasharray="1.4 0.7"/>
<line x1="189.78" y1="430.40" x2="189.78" y2="631.10" stroke="#939393" stroke-width="1" stroke-dasharray="2.5 0.5"/>
<line x1="200.62" y1="430.40" x2="200.62" y2="631.10" stroke="#939393" stroke-width="1" stroke-dasharray="2.5 0.5"/>
<polygon points="118.00,631.00 119.00,628.80 150.00,628.60 170.00,628.30 172.80,624.80 176.80,620.40 182.90,618.60 187.30,622.00 189.90,628.30 200.30,628.40 202.90,620.50 215.00,620.30 225.00,620.20 240.00,620.40 246.00,622.00 252.00,624.00 260.00,626.50 268.60,628.50 270.00,631.00" fill="#bdbdbd" fill-opacity="1"/>
<circle cx="90.60" cy="629.30" r="2.45" fill="#bdbdbd" fill-opacity="0.9"/>
<circle cx="113.30" cy="629.80" r="2.45" fill="#bdbdbd" fill-opacity="0.9"/>
<circle cx="121.00" cy="626.50" r="2.45" fill="#bdbdbd" fill-opacity="0.9"/>
<circle cx="125.30" cy="627.60" r="2.45" fill="#bdbdbd" fill-opacity="0.9"/>
<circle cx="130.50" cy="627.60" r="2.45" fill="#bdbdbd" fill-opacity="0.9"/>
<circle cx="134.50" cy="626.50" r="2.45" fill="#bdbdbd" fill-opacity="0.9"/>
<circle cx="139.70" cy="627.80" r="2.45" fill="#bdbdbd" fill-opacity="0.9"/>
<circle cx="147.60" cy="627.80" r="2.45" fill="#bdbdbd" fill-opacity="0.9"/>
<circle cx="161.50" cy="625.80" r="2.45" fill="#bdbdbd" fill-opacity="0.9"/>
<circle cx="167.20" cy="624.80" r="2.45" fill="#bdbdbd" fill-opacity="0.9"/>
<circle cx="141.00" cy="628.00" r="2.45" fill="#bdbdbd" fill-opacity="0.9"/>
<circle cx="275.70" cy="621.70" r="2.45" fill="#bdbdbd" fill-opacity="0.9"/>
<circle cx="271.70" cy="623.70" r="2.45" fill="#bdbdbd" fill-opacity="0.9"/>
<circle cx="266.50" cy="626.50" r="2.45" fill="#bdbdbd" fill-opacity="0.9"/>
<circle cx="255.50" cy="622.20" r="2.45" fill="#bdbdbd" fill-opacity="0.9"/>
<circle cx="252.90" cy="621.10" r="2.45" fill="#bdbdbd" fill-opacity="0.9"/>
<circle cx="284.40" cy="629.60" r="2.45" fill="#bdbdbd" fill-opacity="0.9"/>
<circle cx="255.50" cy="626.50" r="2.45" fill="#bdbdbd" fill-opacity="0.9"/>
<circle cx="178.50" cy="619.50" r="2.45" fill="#bdbdbd" fill-opacity="0.9"/>
<circle cx="185.00" cy="620.30" r="2.45" fill="#bdbdbd" fill-opacity="0.9"/>
<circle cx="206.00" cy="619.50" r="2.45" fill="#bdbdbd" fill-opacity="0.9"/>
<circle cx="220.00" cy="619.80" r="2.45" fill="#bdbdbd" fill-opacity="0.9"/>
<circle cx="232.00" cy="619.80" r="2.45" fill="#bdbdbd" fill-opacity="0.9"/>
<circle cx="159.70" cy="550.70" r="2.45" fill="#66c5d6" fill-opacity="0.8"/>
<circle cx="160.10" cy="567.80" r="2.45" fill="#66c5d6" fill-opacity="0.8"/>
<circle cx="159.40" cy="583.80" r="2.45" fill="#66c5d6" fill-opacity="0.8"/>
<circle cx="170.20" cy="592.60" r="2.45" fill="#66c5d6" fill-opacity="0.8"/>
<circle cx="179.90" cy="593.30" r="2.45" fill="#66c5d6" fill-opacity="0.8"/>
<circle cx="180.30" cy="595.60" r="2.45" fill="#66c5d6" fill-opacity="0.8"/>
<circle cx="177.50" cy="603.80" r="2.45" fill="#66c5d6" fill-opacity="0.8"/>
<circle cx="180.30" cy="616.90" r="2.45" fill="#66c5d6" fill-opacity="0.8"/>
<circle cx="108.20" cy="619.00" r="2.45" fill="#66c5d6" fill-opacity="0.8"/>
<circle cx="133.00" cy="618.30" r="2.45" fill="#66c5d6" fill-opacity="0.8"/>
<circle cx="240.30" cy="466.00" r="2.45" fill="#e8876e" fill-opacity="0.78"/>
<circle cx="225.60" cy="529.60" r="2.45" fill="#e8876e" fill-opacity="0.78"/>
<circle cx="227.80" cy="542.30" r="2.45" fill="#e8876e" fill-opacity="0.78"/>
<circle cx="242.20" cy="576.50" r="2.45" fill="#e8876e" fill-opacity="0.78"/>
<circle cx="212.50" cy="594.70" r="2.45" fill="#e8876e" fill-opacity="0.78"/>
<circle cx="244.70" cy="594.50" r="2.45" fill="#e8876e" fill-opacity="0.78"/>
<circle cx="210.80" cy="607.40" r="2.45" fill="#e8876e" fill-opacity="0.78"/>
<circle cx="233.10" cy="604.80" r="2.45" fill="#e8876e" fill-opacity="0.78"/>
<circle cx="236.90" cy="605.20" r="2.45" fill="#e8876e" fill-opacity="0.78"/>
<circle cx="237.90" cy="612.00" r="2.45" fill="#e8876e" fill-opacity="0.78"/>
<circle cx="245.80" cy="615.10" r="2.45" fill="#e8876e" fill-opacity="0.78"/>
<circle cx="207.00" cy="614.60" r="2.45" fill="#e8876e" fill-opacity="0.78"/>
<circle cx="213.00" cy="613.50" r="2.45" fill="#e8876e" fill-opacity="0.78"/>
<circle cx="213.80" cy="616.20" r="2.45" fill="#e8876e" fill-opacity="0.78"/>
<circle cx="208.10" cy="617.90" r="2.45" fill="#e8876e" fill-opacity="0.78"/>
<circle cx="216.70" cy="618.80" r="2.45" fill="#e8876e" fill-opacity="0.78"/>
<circle cx="226.10" cy="613.10" r="2.45" fill="#e8876e" fill-opacity="0.78"/>
<circle cx="231.80" cy="613.50" r="2.45" fill="#e8876e" fill-opacity="0.78"/>
<circle cx="226.10" cy="617.00" r="2.45" fill="#e8876e" fill-opacity="0.78"/>
<circle cx="230.90" cy="617.60" r="2.45" fill="#e8876e" fill-opacity="0.78"/>
<circle cx="236.30" cy="618.60" r="2.45" fill="#e8876e" fill-opacity="0.78"/>
<circle cx="277.00" cy="617.10" r="2.45" fill="#e8876e" fill-opacity="0.78"/>
<circle cx="279.60" cy="616.20" r="2.45" fill="#e8876e" fill-opacity="0.78"/>
<line x1="86.80" y1="430.40" x2="303.60" y2="430.40" stroke="#aaa" stroke-width="1.1"/>
<line x1="303.60" y1="430.40" x2="303.60" y2="631.10" stroke="#666" stroke-width="1.1"/>
<line x1="86.80" y1="631.10" x2="303.60" y2="631.10" stroke="#999" stroke-width="1.3"/>
<line x1="86.80" y1="430.40" x2="86.80" y2="631.10" stroke="#bbb" stroke-width="1.1"/>
<line x1="85.00" y1="631.10" x2="86.80" y2="631.10" stroke="#555" stroke-width="0.8"/>
<text x="84.20" y="634.20" font-size="8.6" text-anchor="end" font-weight="400" fill="#333" >0</text>
<line x1="85.00" y1="606.01" x2="86.80" y2="606.01" stroke="#555" stroke-width="0.8"/>
<text x="84.20" y="609.11" font-size="8.6" text-anchor="end" font-weight="400" fill="#333" >3</text>
<line x1="85.00" y1="580.92" x2="86.80" y2="580.92" stroke="#555" stroke-width="0.8"/>
<text x="84.20" y="584.02" font-size="8.6" text-anchor="end" font-weight="400" fill="#333" >6</text>
<line x1="85.00" y1="555.83" x2="86.80" y2="555.83" stroke="#555" stroke-width="0.8"/>
<text x="84.20" y="558.93" font-size="8.6" text-anchor="end" font-weight="400" fill="#333" >9</text>
<line x1="85.00" y1="530.74" x2="86.80" y2="530.74" stroke="#555" stroke-width="0.8"/>
<text x="84.20" y="533.84" font-size="8.6" text-anchor="end" font-weight="400" fill="#333" >12</text>
<line x1="85.00" y1="505.66" x2="86.80" y2="505.66" stroke="#555" stroke-width="0.8"/>
<text x="84.20" y="508.76" font-size="8.6" text-anchor="end" font-weight="400" fill="#333" >15</text>
<line x1="85.00" y1="480.57" x2="86.80" y2="480.57" stroke="#555" stroke-width="0.8"/>
<text x="84.20" y="483.67" font-size="8.6" text-anchor="end" font-weight="400" fill="#333" >18</text>
<line x1="85.00" y1="455.48" x2="86.80" y2="455.48" stroke="#555" stroke-width="0.8"/>
<text x="84.20" y="458.58" font-size="8.6" text-anchor="end" font-weight="400" fill="#333" >21</text>
<line x1="85.00" y1="430.39" x2="86.80" y2="430.39" stroke="#555" stroke-width="0.8"/>
<text x="84.20" y="433.49" font-size="8.6" text-anchor="end" font-weight="400" fill="#333" >24</text>
<line x1="86.80" y1="631.10" x2="86.80" y2="632.90" stroke="#555" stroke-width="0.8"/>
<text x="86.80" y="642.10" font-size="8.6" text-anchor="middle" font-weight="400" fill="#333" >−10</text>
<line x1="108.48" y1="631.10" x2="108.48" y2="632.90" stroke="#555" stroke-width="0.8"/>
<text x="108.48" y="642.10" font-size="8.6" text-anchor="middle" font-weight="400" fill="#333" >−8</text>
<line x1="130.16" y1="631.10" x2="130.16" y2="632.90" stroke="#555" stroke-width="0.8"/>
<text x="130.16" y="642.10" font-size="8.6" text-anchor="middle" font-weight="400" fill="#333" >−6</text>
<line x1="151.84" y1="631.10" x2="151.84" y2="632.90" stroke="#555" stroke-width="0.8"/>
<text x="151.84" y="642.10" font-size="8.6" text-anchor="middle" font-weight="400" fill="#333" >−4</text>
<line x1="173.52" y1="631.10" x2="173.52" y2="632.90" stroke="#555" stroke-width="0.8"/>
<text x="173.52" y="642.10" font-size="8.6" text-anchor="middle" font-weight="400" fill="#333" >−2</text>
<line x1="195.20" y1="631.10" x2="195.20" y2="632.90" stroke="#555" stroke-width="0.8"/>
<text x="195.20" y="642.10" font-size="8.6" text-anchor="middle" font-weight="400" fill="#333" >0</text>
<line x1="216.88" y1="631.10" x2="216.88" y2="632.90" stroke="#555" stroke-width="0.8"/>
<text x="216.88" y="642.10" font-size="8.6" text-anchor="middle" font-weight="400" fill="#333" >2</text>
<line x1="238.56" y1="631.10" x2="238.56" y2="632.90" stroke="#555" stroke-width="0.8"/>
<text x="238.56" y="642.10" font-size="8.6" text-anchor="middle" font-weight="400" fill="#333" >4</text>
<line x1="260.24" y1="631.10" x2="260.24" y2="632.90" stroke="#555" stroke-width="0.8"/>
<text x="260.24" y="642.10" font-size="8.6" text-anchor="middle" font-weight="400" fill="#333" >6</text>
<line x1="281.92" y1="631.10" x2="281.92" y2="632.90" stroke="#555" stroke-width="0.8"/>
<text x="281.92" y="642.10" font-size="8.6" text-anchor="middle" font-weight="400" fill="#333" >8</text>
<line x1="303.60" y1="631.10" x2="303.60" y2="632.90" stroke="#555" stroke-width="0.8"/>
<text x="303.60" y="642.10" font-size="8.6" text-anchor="middle" font-weight="400" fill="#333" >10</text>
<text x="195.20" y="655.70" font-size="12" text-anchor="middle" font-weight="400" fill="#222" >log<tspan font-size="8.4" dy="3">2</tspan><tspan dy="-3">(Fold Change)</tspan></text>
<text transform="translate(68.00,530.75) rotate(-90)" font-size="12" text-anchor="middle" fill="#222">-log<tspan font-size="8.4" dy="3">10</tspan><tspan dy="-3">(Pvalue)</tspan></text>
<line x1="85.80" y1="688.30" x2="85.80" y2="890.90" stroke="#ebebeb" stroke-width="0.9"/>
<line x1="107.60" y1="688.30" x2="107.60" y2="890.90" stroke="#ebebeb" stroke-width="0.9"/>
<line x1="129.40" y1="688.30" x2="129.40" y2="890.90" stroke="#ebebeb" stroke-width="0.9"/>
<line x1="151.20" y1="688.30" x2="151.20" y2="890.90" stroke="#ebebeb" stroke-width="0.9"/>
<line x1="173.00" y1="688.30" x2="173.00" y2="890.90" stroke="#ebebeb" stroke-width="0.9"/>
<line x1="194.80" y1="688.30" x2="194.80" y2="890.90" stroke="#ebebeb" stroke-width="0.9"/>
<line x1="216.60" y1="688.30" x2="216.60" y2="890.90" stroke="#ebebeb" stroke-width="0.9"/>
<line x1="238.40" y1="688.30" x2="238.40" y2="890.90" stroke="#ebebeb" stroke-width="0.9"/>
<line x1="260.20" y1="688.30" x2="260.20" y2="890.90" stroke="#ebebeb" stroke-width="0.9"/>
<line x1="282.00" y1="688.30" x2="282.00" y2="890.90" stroke="#ebebeb" stroke-width="0.9"/>
<line x1="303.80" y1="688.30" x2="303.80" y2="890.90" stroke="#ebebeb" stroke-width="0.9"/>
<line x1="85.80" y1="890.90" x2="303.80" y2="890.90" stroke="#ebebeb" stroke-width="0.9"/>
<line x1="85.80" y1="865.64" x2="303.80" y2="865.64" stroke="#ebebeb" stroke-width="0.9"/>
<line x1="85.80" y1="840.38" x2="303.80" y2="840.38" stroke="#ebebeb" stroke-width="0.9"/>
<line x1="85.80" y1="815.12" x2="303.80" y2="815.12" stroke="#ebebeb" stroke-width="0.9"/>
<line x1="85.80" y1="789.86" x2="303.80" y2="789.86" stroke="#ebebeb" stroke-width="0.9"/>
<line x1="85.80" y1="764.60" x2="303.80" y2="764.60" stroke="#ebebeb" stroke-width="0.9"/>
<line x1="85.80" y1="739.34" x2="303.80" y2="739.34" stroke="#ebebeb" stroke-width="0.9"/>
<line x1="85.80" y1="714.08" x2="303.80" y2="714.08" stroke="#ebebeb" stroke-width="0.9"/>
<line x1="85.80" y1="688.82" x2="303.80" y2="688.82" stroke="#ebebeb" stroke-width="0.9"/>
<line x1="85.80" y1="888.71" x2="303.80" y2="888.71" stroke="#c8c8c8" stroke-width="1" />
<line x1="189.35" y1="688.30" x2="189.35" y2="890.90" stroke="#a3a3a3" stroke-width="1" />
<line x1="200.25" y1="688.30" x2="200.25" y2="890.90" stroke="#a3a3a3" stroke-width="1" />
<polygon points="130.00,891.00 137.70,889.30 160.00,888.80 175.00,888.20 184.00,887.60 185.50,883.00 187.50,877.00 189.30,873.30 190.80,874.50 192.60,881.50 194.20,887.20 196.30,880.00 198.30,875.30 200.00,875.00 201.90,877.00 201.90,887.40 230.00,887.60 258.00,887.80 260.00,891.00" fill="#bdbdbd" fill-opacity="1"/>
<circle cx="187.50" cy="875.50" r="2.45" fill="#bdbdbd" fill-opacity="0.9"/>
<circle cx="189.50" cy="873.20" r="2.45" fill="#bdbdbd" fill-opacity="0.9"/>
<circle cx="198.80" cy="875.30" r="2.45" fill="#bdbdbd" fill-opacity="0.9"/>
<circle cx="200.50" cy="876.00" r="2.45" fill="#bdbdbd" fill-opacity="0.9"/>
<polygon points="177.00,887.00 177.50,884.50 183.00,883.50 185.20,882.00 185.30,877.00 187.00,876.00 187.80,880.00 186.80,887.30" fill="#66c5d6" fill-opacity="0.9500000000000001"/>
<circle cx="180.10" cy="839.70" r="2.45" fill="#66c5d6" fill-opacity="0.8"/>
<circle cx="179.20" cy="868.50" r="2.45" fill="#66c5d6" fill-opacity="0.8"/>
<circle cx="181.00" cy="866.80" r="2.45" fill="#66c5d6" fill-opacity="0.8"/>
<circle cx="186.00" cy="867.50" r="2.45" fill="#66c5d6" fill-opacity="0.8"/>
<circle cx="153.80" cy="875.40" r="2.45" fill="#66c5d6" fill-opacity="0.8"/>
<circle cx="167.20" cy="878.90" r="2.45" fill="#66c5d6" fill-opacity="0.8"/>
<circle cx="167.20" cy="882.40" r="2.45" fill="#66c5d6" fill-opacity="0.8"/>
<circle cx="145.30" cy="887.20" r="2.45" fill="#66c5d6" fill-opacity="0.8"/>
<circle cx="163.00" cy="887.40" r="2.45" fill="#66c5d6" fill-opacity="0.8"/>
<circle cx="173.10" cy="887.00" r="2.45" fill="#66c5d6" fill-opacity="0.8"/>
<circle cx="177.90" cy="885.60" r="2.45" fill="#66c5d6" fill-opacity="0.8"/>
<circle cx="179.70" cy="884.70" r="2.45" fill="#66c5d6" fill-opacity="0.8"/>
<circle cx="183.20" cy="884.70" r="2.45" fill="#66c5d6" fill-opacity="0.8"/>
<circle cx="185.80" cy="886.10" r="2.45" fill="#66c5d6" fill-opacity="0.8"/>
<circle cx="187.10" cy="877.30" r="2.45" fill="#66c5d6" fill-opacity="0.8"/>
<circle cx="186.70" cy="880.00" r="2.45" fill="#66c5d6" fill-opacity="0.8"/>
<circle cx="181.50" cy="886.30" r="2.45" fill="#66c5d6" fill-opacity="0.8"/>
<polygon points="200.60,887.50 200.60,876.00 201.20,866.00 201.50,856.00 203.50,852.50 207.50,852.80 211.00,853.20 213.50,855.50 215.50,857.50 218.50,857.80 219.50,860.50 221.50,862.00 225.00,863.00 226.80,866.00 226.50,868.50 222.00,869.50 218.80,870.00 222.50,872.20 226.50,876.50 230.00,879.00 231.00,882.50 236.00,884.00 246.00,884.00 255.00,884.20 262.50,885.50 264.50,888.00 258.00,888.40 230.00,888.40" fill="#e8876e" fill-opacity="0.93"/>
<circle cx="212.30" cy="724.70" r="2.45" fill="#e8876e" fill-opacity="0.78"/>
<circle cx="212.50" cy="754.90" r="2.45" fill="#e8876e" fill-opacity="0.78"/>
<circle cx="219.20" cy="771.60" r="2.45" fill="#e8876e" fill-opacity="0.78"/>
<circle cx="212.30" cy="796.80" r="2.45" fill="#e8876e" fill-opacity="0.78"/>
<circle cx="208.60" cy="803.60" r="2.45" fill="#e8876e" fill-opacity="0.78"/>
<circle cx="212.80" cy="805.60" r="2.45" fill="#e8876e" fill-opacity="0.78"/>
<circle cx="210.40" cy="808.10" r="2.45" fill="#e8876e" fill-opacity="0.78"/>
<circle cx="213.70" cy="809.60" r="2.45" fill="#e8876e" fill-opacity="0.78"/>
<circle cx="207.90" cy="810.90" r="2.45" fill="#e8876e" fill-opacity="0.78"/>
<circle cx="211.00" cy="818.00" r="2.45" fill="#e8876e" fill-opacity="0.78"/>
<circle cx="213.90" cy="817.60" r="2.45" fill="#e8876e" fill-opacity="0.78"/>
<circle cx="209.60" cy="828.20" r="2.45" fill="#e8876e" fill-opacity="0.78"/>
<circle cx="213.20" cy="831.90" r="2.45" fill="#e8876e" fill-opacity="0.78"/>
<circle cx="210.30" cy="835.00" r="2.45" fill="#e8876e" fill-opacity="0.78"/>
<circle cx="214.50" cy="835.00" r="2.45" fill="#e8876e" fill-opacity="0.78"/>
<circle cx="206.90" cy="839.50" r="2.45" fill="#e8876e" fill-opacity="0.78"/>
<circle cx="209.10" cy="841.40" r="2.45" fill="#e8876e" fill-opacity="0.78"/>
<circle cx="206.40" cy="843.90" r="2.45" fill="#e8876e" fill-opacity="0.78"/>
<circle cx="213.00" cy="845.20" r="2.45" fill="#e8876e" fill-opacity="0.78"/>
<circle cx="205.00" cy="849.60" r="2.45" fill="#e8876e" fill-opacity="0.78"/>
<circle cx="215.50" cy="850.60" r="2.45" fill="#e8876e" fill-opacity="0.78"/>
<circle cx="210.30" cy="835.60" r="2.45" fill="#e8876e" fill-opacity="0.78"/>
<circle cx="207.10" cy="839.40" r="2.45" fill="#e8876e" fill-opacity="0.78"/>
<circle cx="207.30" cy="853.20" r="2.45" fill="#e8876e" fill-opacity="0.78"/>
<circle cx="212.30" cy="853.90" r="2.45" fill="#e8876e" fill-opacity="0.78"/>
<circle cx="217.30" cy="857.60" r="2.45" fill="#e8876e" fill-opacity="0.78"/>
<circle cx="221.90" cy="862.80" r="2.45" fill="#e8876e" fill-opacity="0.78"/>
<circle cx="225.40" cy="864.60" r="2.45" fill="#e8876e" fill-opacity="0.78"/>
<circle cx="221.10" cy="866.40" r="2.45" fill="#e8876e" fill-opacity="0.78"/>
<circle cx="216.70" cy="869.60" r="2.45" fill="#e8876e" fill-opacity="0.78"/>
<circle cx="222.50" cy="872.80" r="2.45" fill="#e8876e" fill-opacity="0.78"/>
<circle cx="234.80" cy="874.70" r="2.45" fill="#e8876e" fill-opacity="0.78"/>
<circle cx="237.70" cy="864.20" r="2.45" fill="#e8876e" fill-opacity="0.78"/>
<circle cx="239.20" cy="864.30" r="2.45" fill="#e8876e" fill-opacity="0.78"/>
<circle cx="234.90" cy="876.40" r="2.45" fill="#e8876e" fill-opacity="0.78"/>
<circle cx="235.60" cy="880.80" r="2.45" fill="#e8876e" fill-opacity="0.78"/>
<circle cx="248.40" cy="875.30" r="2.45" fill="#e8876e" fill-opacity="0.78"/>
<circle cx="248.00" cy="879.00" r="2.45" fill="#e8876e" fill-opacity="0.78"/>
<circle cx="226.50" cy="878.60" r="2.45" fill="#e8876e" fill-opacity="0.78"/>
<circle cx="228.30" cy="879.00" r="2.45" fill="#e8876e" fill-opacity="0.78"/>
<circle cx="228.60" cy="884.40" r="2.45" fill="#e8876e" fill-opacity="0.78"/>
<circle cx="235.20" cy="885.80" r="2.45" fill="#e8876e" fill-opacity="0.78"/>
<circle cx="241.80" cy="886.60" r="2.45" fill="#e8876e" fill-opacity="0.78"/>
<circle cx="246.90" cy="885.60" r="2.45" fill="#e8876e" fill-opacity="0.78"/>
<circle cx="253.80" cy="885.60" r="2.45" fill="#e8876e" fill-opacity="0.78"/>
<circle cx="259.30" cy="886.20" r="2.45" fill="#e8876e" fill-opacity="0.78"/>
<circle cx="263.00" cy="886.80" r="2.45" fill="#e8876e" fill-opacity="0.78"/>
<circle cx="272.20" cy="885.30" r="2.45" fill="#e8876e" fill-opacity="0.78"/>
<circle cx="280.60" cy="880.90" r="2.45" fill="#e8876e" fill-opacity="0.78"/>
<circle cx="202.30" cy="858.00" r="2.45" fill="#e8876e" fill-opacity="0.78"/>
<circle cx="201.80" cy="864.00" r="2.45" fill="#e8876e" fill-opacity="0.78"/>
<circle cx="202.00" cy="870.00" r="2.45" fill="#e8876e" fill-opacity="0.78"/>
<circle cx="202.00" cy="876.00" r="2.45" fill="#e8876e" fill-opacity="0.78"/>
<circle cx="202.50" cy="882.00" r="2.45" fill="#e8876e" fill-opacity="0.78"/>
<circle cx="203.50" cy="852.00" r="2.45" fill="#e8876e" fill-opacity="0.78"/>
<circle cx="215.00" cy="855.00" r="2.45" fill="#e8876e" fill-opacity="0.78"/>
<circle cx="218.80" cy="860.20" r="2.45" fill="#e8876e" fill-opacity="0.78"/>
<circle cx="224.50" cy="867.50" r="2.45" fill="#e8876e" fill-opacity="0.78"/>
<circle cx="229.00" cy="881.50" r="2.45" fill="#e8876e" fill-opacity="0.78"/>
<circle cx="231.50" cy="883.00" r="2.45" fill="#e8876e" fill-opacity="0.78"/>
<line x1="85.80" y1="688.30" x2="303.80" y2="688.30" stroke="#555" stroke-width="1.1"/>
<line x1="303.80" y1="688.30" x2="303.80" y2="890.90" stroke="#555" stroke-width="1.1"/>
<line x1="85.80" y1="890.90" x2="303.80" y2="890.90" stroke="#555" stroke-width="1.3"/>
<line x1="85.80" y1="688.30" x2="85.80" y2="890.90" stroke="#555" stroke-width="1.1"/>
<line x1="84.00" y1="890.90" x2="85.80" y2="890.90" stroke="#555" stroke-width="0.8"/>
<text x="83.20" y="894.00" font-size="8.6" text-anchor="end" font-weight="400" fill="#333" >0</text>
<line x1="84.00" y1="865.64" x2="85.80" y2="865.64" stroke="#555" stroke-width="0.8"/>
<text x="83.20" y="868.74" font-size="8.6" text-anchor="end" font-weight="400" fill="#333" >15</text>
<line x1="84.00" y1="840.38" x2="85.80" y2="840.38" stroke="#555" stroke-width="0.8"/>
<text x="83.20" y="843.48" font-size="8.6" text-anchor="end" font-weight="400" fill="#333" >30</text>
<line x1="84.00" y1="815.12" x2="85.80" y2="815.12" stroke="#555" stroke-width="0.8"/>
<text x="83.20" y="818.22" font-size="8.6" text-anchor="end" font-weight="400" fill="#333" >45</text>
<line x1="84.00" y1="789.86" x2="85.80" y2="789.86" stroke="#555" stroke-width="0.8"/>
<text x="83.20" y="792.96" font-size="8.6" text-anchor="end" font-weight="400" fill="#333" >60</text>
<line x1="84.00" y1="764.60" x2="85.80" y2="764.60" stroke="#555" stroke-width="0.8"/>
<text x="83.20" y="767.70" font-size="8.6" text-anchor="end" font-weight="400" fill="#333" >75</text>
<line x1="84.00" y1="739.34" x2="85.80" y2="739.34" stroke="#555" stroke-width="0.8"/>
<text x="83.20" y="742.44" font-size="8.6" text-anchor="end" font-weight="400" fill="#333" >90</text>
<line x1="84.00" y1="714.08" x2="85.80" y2="714.08" stroke="#555" stroke-width="0.8"/>
<text x="83.20" y="717.18" font-size="8.6" text-anchor="end" font-weight="400" fill="#333" >105</text>
<line x1="84.00" y1="688.82" x2="85.80" y2="688.82" stroke="#555" stroke-width="0.8"/>
<text x="83.20" y="691.92" font-size="8.6" text-anchor="end" font-weight="400" fill="#333" >120</text>
<line x1="85.80" y1="890.90" x2="85.80" y2="892.70" stroke="#555" stroke-width="0.8"/>
<text x="85.80" y="901.90" font-size="8.6" text-anchor="middle" font-weight="400" fill="#333" >-10</text>
<line x1="107.60" y1="890.90" x2="107.60" y2="892.70" stroke="#555" stroke-width="0.8"/>
<text x="107.60" y="901.90" font-size="8.6" text-anchor="middle" font-weight="400" fill="#333" >-8</text>
<line x1="129.40" y1="890.90" x2="129.40" y2="892.70" stroke="#555" stroke-width="0.8"/>
<text x="129.40" y="901.90" font-size="8.6" text-anchor="middle" font-weight="400" fill="#333" >-6</text>
<line x1="151.20" y1="890.90" x2="151.20" y2="892.70" stroke="#555" stroke-width="0.8"/>
<text x="151.20" y="901.90" font-size="8.6" text-anchor="middle" font-weight="400" fill="#333" >-4</text>
<line x1="173.00" y1="890.90" x2="173.00" y2="892.70" stroke="#555" stroke-width="0.8"/>
<text x="173.00" y="901.90" font-size="8.6" text-anchor="middle" font-weight="400" fill="#333" >-2</text>
<line x1="194.80" y1="890.90" x2="194.80" y2="892.70" stroke="#555" stroke-width="0.8"/>
<text x="194.80" y="901.90" font-size="8.6" text-anchor="middle" font-weight="400" fill="#333" >0</text>
<line x1="216.60" y1="890.90" x2="216.60" y2="892.70" stroke="#555" stroke-width="0.8"/>
<text x="216.60" y="901.90" font-size="8.6" text-anchor="middle" font-weight="400" fill="#333" >2</text>
<line x1="238.40" y1="890.90" x2="238.40" y2="892.70" stroke="#555" stroke-width="0.8"/>
<text x="238.40" y="901.90" font-size="8.6" text-anchor="middle" font-weight="400" fill="#333" >4</text>
<line x1="260.20" y1="890.90" x2="260.20" y2="892.70" stroke="#555" stroke-width="0.8"/>
<text x="260.20" y="901.90" font-size="8.6" text-anchor="middle" font-weight="400" fill="#333" >6</text>
<line x1="282.00" y1="890.90" x2="282.00" y2="892.70" stroke="#555" stroke-width="0.8"/>
<text x="282.00" y="901.90" font-size="8.6" text-anchor="middle" font-weight="400" fill="#333" >8</text>
<line x1="303.80" y1="890.90" x2="303.80" y2="892.70" stroke="#555" stroke-width="0.8"/>
<text x="303.80" y="901.90" font-size="8.6" text-anchor="middle" font-weight="400" fill="#333" >10</text>
<text x="194.80" y="915.50" font-size="12" text-anchor="middle" font-weight="400" fill="#222" >log<tspan font-size="8.4" dy="3">2</tspan><tspan dy="-3">(Fold Change)</tspan></text>
<text transform="translate(65.20,789.60) rotate(-90)" font-size="12" text-anchor="middle" fill="#222">-log<tspan font-size="8.4" dy="3">10</tspan><tspan dy="-3">(Pvalue)</tspan></text>
<line x1="87.40" y1="965.50" x2="87.40" y2="1169.60" stroke="#ebebeb" stroke-width="0.9"/>
<line x1="109.30" y1="965.50" x2="109.30" y2="1169.60" stroke="#ebebeb" stroke-width="0.9"/>
<line x1="131.20" y1="965.50" x2="131.20" y2="1169.60" stroke="#ebebeb" stroke-width="0.9"/>
<line x1="153.10" y1="965.50" x2="153.10" y2="1169.60" stroke="#ebebeb" stroke-width="0.9"/>
<line x1="175.00" y1="965.50" x2="175.00" y2="1169.60" stroke="#ebebeb" stroke-width="0.9"/>
<line x1="196.90" y1="965.50" x2="196.90" y2="1169.60" stroke="#ebebeb" stroke-width="0.9"/>
<line x1="218.80" y1="965.50" x2="218.80" y2="1169.60" stroke="#ebebeb" stroke-width="0.9"/>
<line x1="240.70" y1="965.50" x2="240.70" y2="1169.60" stroke="#ebebeb" stroke-width="0.9"/>
<line x1="262.60" y1="965.50" x2="262.60" y2="1169.60" stroke="#ebebeb" stroke-width="0.9"/>
<line x1="284.50" y1="965.50" x2="284.50" y2="1169.60" stroke="#ebebeb" stroke-width="0.9"/>
<line x1="306.40" y1="965.50" x2="306.40" y2="1169.60" stroke="#ebebeb" stroke-width="0.9"/>
<line x1="87.40" y1="1169.60" x2="306.40" y2="1169.60" stroke="#ebebeb" stroke-width="0.9"/>
<line x1="87.40" y1="1147.03" x2="306.40" y2="1147.03" stroke="#ebebeb" stroke-width="0.9"/>
<line x1="87.40" y1="1124.46" x2="306.40" y2="1124.46" stroke="#ebebeb" stroke-width="0.9"/>
<line x1="87.40" y1="1101.89" x2="306.40" y2="1101.89" stroke="#ebebeb" stroke-width="0.9"/>
<line x1="87.40" y1="1079.32" x2="306.40" y2="1079.32" stroke="#ebebeb" stroke-width="0.9"/>
<line x1="87.40" y1="1056.75" x2="306.40" y2="1056.75" stroke="#ebebeb" stroke-width="0.9"/>
<line x1="87.40" y1="1034.19" x2="306.40" y2="1034.19" stroke="#ebebeb" stroke-width="0.9"/>
<line x1="87.40" y1="1011.62" x2="306.40" y2="1011.62" stroke="#ebebeb" stroke-width="0.9"/>
<line x1="87.40" y1="989.05" x2="306.40" y2="989.05" stroke="#ebebeb" stroke-width="0.9"/>
<line x1="87.40" y1="966.48" x2="306.40" y2="966.48" stroke="#ebebeb" stroke-width="0.9"/>
<line x1="87.40" y1="1159.81" x2="306.40" y2="1159.81" stroke="#c8c8c8" stroke-width="1" stroke-dasharray="1.4 0.7"/>
<line x1="191.43" y1="965.50" x2="191.43" y2="1169.60" stroke="#b0b0b0" stroke-width="1" stroke-dasharray="5 0.6"/>
<line x1="202.38" y1="965.50" x2="202.38" y2="1169.60" stroke="#b0b0b0" stroke-width="1" stroke-dasharray="5 0.6"/>
<polygon points="135.00,1169.80 137.00,1168.30 150.00,1167.60 160.00,1166.80 175.00,1166.60 180.00,1163.80 185.00,1162.30 190.00,1162.30 192.50,1164.00 196.00,1167.40 199.00,1166.50 202.90,1160.40 205.50,1159.40 209.00,1159.50 212.50,1161.70 218.60,1164.30 225.00,1164.80 230.00,1165.50 240.00,1166.40 258.00,1166.80 268.00,1167.80 280.00,1168.40 281.00,1169.80" fill="#bdbdbd" fill-opacity="1"/>
<circle cx="105.10" cy="1168.50" r="2.45" fill="#bdbdbd" fill-opacity="0.9"/>
<circle cx="138.10" cy="1167.30" r="2.45" fill="#bdbdbd" fill-opacity="0.9"/>
<circle cx="144.50" cy="1167.00" r="2.45" fill="#bdbdbd" fill-opacity="0.9"/>
<circle cx="151.20" cy="1163.80" r="2.45" fill="#bdbdbd" fill-opacity="0.9"/>
<circle cx="151.10" cy="1167.00" r="2.45" fill="#bdbdbd" fill-opacity="0.9"/>
<circle cx="162.50" cy="1161.30" r="2.45" fill="#bdbdbd" fill-opacity="0.9"/>
<circle cx="167.50" cy="1165.00" r="2.45" fill="#bdbdbd" fill-opacity="0.9"/>
<circle cx="173.30" cy="1165.00" r="2.45" fill="#bdbdbd" fill-opacity="0.9"/>
<circle cx="179.80" cy="1162.60" r="2.45" fill="#bdbdbd" fill-opacity="0.9"/>
<circle cx="185.00" cy="1161.30" r="2.45" fill="#bdbdbd" fill-opacity="0.9"/>
<circle cx="189.00" cy="1163.10" r="2.45" fill="#bdbdbd" fill-opacity="0.9"/>
<circle cx="212.50" cy="1161.70" r="2.45" fill="#bdbdbd" fill-opacity="0.9"/>
<circle cx="213.40" cy="1162.60" r="2.45" fill="#bdbdbd" fill-opacity="0.9"/>
<circle cx="218.60" cy="1164.30" r="2.45" fill="#bdbdbd" fill-opacity="0.9"/>
<circle cx="225.20" cy="1161.20" r="2.45" fill="#bdbdbd" fill-opacity="0.9"/>
<circle cx="228.30" cy="1164.70" r="2.45" fill="#bdbdbd" fill-opacity="0.9"/>
<circle cx="237.50" cy="1162.60" r="2.45" fill="#bdbdbd" fill-opacity="0.9"/>
<circle cx="242.70" cy="1166.30" r="2.45" fill="#bdbdbd" fill-opacity="0.9"/>
<circle cx="258.40" cy="1166.10" r="2.45" fill="#bdbdbd" fill-opacity="0.9"/>
<circle cx="267.60" cy="1162.60" r="2.45" fill="#bdbdbd" fill-opacity="0.9"/>
<circle cx="271.50" cy="1168.00" r="2.45" fill="#bdbdbd" fill-opacity="0.9"/>
<circle cx="277.10" cy="1168.00" r="2.45" fill="#bdbdbd" fill-opacity="0.9"/>
<circle cx="203.50" cy="1160.50" r="2.45" fill="#bdbdbd" fill-opacity="0.9"/>
<circle cx="207.00" cy="1159.30" r="2.45" fill="#bdbdbd" fill-opacity="0.9"/>
<circle cx="182.40" cy="1116.20" r="2.45" fill="#66c5d6" fill-opacity="0.8"/>
<circle cx="171.30" cy="1122.20" r="2.45" fill="#66c5d6" fill-opacity="0.8"/>
<circle cx="173.60" cy="1139.00" r="2.45" fill="#66c5d6" fill-opacity="0.8"/>
<circle cx="177.20" cy="1139.60" r="2.45" fill="#66c5d6" fill-opacity="0.8"/>
<circle cx="180.50" cy="1139.60" r="2.45" fill="#66c5d6" fill-opacity="0.8"/>
<circle cx="188.50" cy="1139.60" r="2.45" fill="#66c5d6" fill-opacity="0.8"/>
<circle cx="170.80" cy="1149.30" r="2.45" fill="#66c5d6" fill-opacity="0.8"/>
<circle cx="175.20" cy="1150.60" r="2.45" fill="#66c5d6" fill-opacity="0.8"/>
<circle cx="185.50" cy="1156.90" r="2.45" fill="#66c5d6" fill-opacity="0.8"/>
<circle cx="181.50" cy="1159.60" r="2.45" fill="#66c5d6" fill-opacity="0.8"/>
<circle cx="125.00" cy="1158.30" r="2.45" fill="#66c5d6" fill-opacity="0.8"/>
<circle cx="223.90" cy="975.20" r="2.45" fill="#e8876e" fill-opacity="0.78"/>
<circle cx="223.30" cy="1004.50" r="2.45" fill="#e8876e" fill-opacity="0.78"/>
<circle cx="219.80" cy="1086.80" r="2.45" fill="#e8876e" fill-opacity="0.78"/>
<circle cx="219.10" cy="1116.30" r="2.45" fill="#e8876e" fill-opacity="0.78"/>
<circle cx="223.00" cy="1116.30" r="2.45" fill="#e8876e" fill-opacity="0.78"/>
<circle cx="207.30" cy="1130.00" r="2.45" fill="#e8876e" fill-opacity="0.78"/>
<circle cx="205.30" cy="1139.30" r="2.45" fill="#e8876e" fill-opacity="0.78"/>
<circle cx="208.10" cy="1142.00" r="2.45" fill="#e8876e" fill-opacity="0.78"/>
<circle cx="218.20" cy="1139.30" r="2.45" fill="#e8876e" fill-opacity="0.78"/>
<circle cx="219.50" cy="1139.80" r="2.45" fill="#e8876e" fill-opacity="0.78"/>
<circle cx="210.80" cy="1145.50" r="2.45" fill="#e8876e" fill-opacity="0.78"/>
<circle cx="206.80" cy="1148.50" r="2.45" fill="#e8876e" fill-opacity="0.78"/>
<circle cx="204.60" cy="1152.00" r="2.45" fill="#e8876e" fill-opacity="0.78"/>
<circle cx="210.80" cy="1151.60" r="2.45" fill="#e8876e" fill-opacity="0.78"/>
<circle cx="213.40" cy="1155.10" r="2.45" fill="#e8876e" fill-opacity="0.78"/>
<circle cx="202.00" cy="1156.40" r="2.45" fill="#e8876e" fill-opacity="0.78"/>
<circle cx="205.50" cy="1155.10" r="2.45" fill="#e8876e" fill-opacity="0.78"/>
<circle cx="208.10" cy="1158.00" r="2.45" fill="#e8876e" fill-opacity="0.78"/>
<circle cx="218.50" cy="1159.10" r="2.45" fill="#e8876e" fill-opacity="0.78"/>
<circle cx="206.00" cy="1155.20" r="2.45" fill="#e8876e" fill-opacity="0.78"/>
<line x1="87.40" y1="965.50" x2="306.40" y2="965.50" stroke="#ccc" stroke-width="1.1"/>
<line x1="306.40" y1="965.50" x2="306.40" y2="1169.60" stroke="#ccc" stroke-width="1.1"/>
<line x1="87.40" y1="1169.60" x2="306.40" y2="1169.60" stroke="#bbb" stroke-width="1.3"/>
<line x1="87.40" y1="965.50" x2="87.40" y2="1169.60" stroke="#ccc" stroke-width="1.1"/>
<line x1="85.60" y1="1169.60" x2="87.40" y2="1169.60" stroke="#555" stroke-width="0.8"/>
<text x="84.80" y="1172.70" font-size="8.6" text-anchor="end" font-weight="400" fill="#333" >0</text>
<line x1="85.60" y1="1147.03" x2="87.40" y2="1147.03" stroke="#555" stroke-width="0.8"/>
<text x="84.80" y="1150.13" font-size="8.6" text-anchor="end" font-weight="400" fill="#333" >3</text>
<line x1="85.60" y1="1124.46" x2="87.40" y2="1124.46" stroke="#555" stroke-width="0.8"/>
<text x="84.80" y="1127.56" font-size="8.6" text-anchor="end" font-weight="400" fill="#333" >6</text>
<line x1="85.60" y1="1101.89" x2="87.40" y2="1101.89" stroke="#555" stroke-width="0.8"/>
<text x="84.80" y="1104.99" font-size="8.6" text-anchor="end" font-weight="400" fill="#333" >9</text>
<line x1="85.60" y1="1079.32" x2="87.40" y2="1079.32" stroke="#555" stroke-width="0.8"/>
<text x="84.80" y="1082.42" font-size="8.6" text-anchor="end" font-weight="400" fill="#333" >12</text>
<line x1="85.60" y1="1056.75" x2="87.40" y2="1056.75" stroke="#555" stroke-width="0.8"/>
<text x="84.80" y="1059.85" font-size="8.6" text-anchor="end" font-weight="400" fill="#333" >15</text>
<line x1="85.60" y1="1034.19" x2="87.40" y2="1034.19" stroke="#555" stroke-width="0.8"/>
<text x="84.80" y="1037.29" font-size="8.6" text-anchor="end" font-weight="400" fill="#333" >18</text>
<line x1="85.60" y1="1011.62" x2="87.40" y2="1011.62" stroke="#555" stroke-width="0.8"/>
<text x="84.80" y="1014.72" font-size="8.6" text-anchor="end" font-weight="400" fill="#333" >21</text>
<line x1="85.60" y1="989.05" x2="87.40" y2="989.05" stroke="#555" stroke-width="0.8"/>
<text x="84.80" y="992.15" font-size="8.6" text-anchor="end" font-weight="400" fill="#333" >24</text>
<line x1="85.60" y1="966.48" x2="87.40" y2="966.48" stroke="#555" stroke-width="0.8"/>
<text x="84.80" y="969.58" font-size="8.6" text-anchor="end" font-weight="400" fill="#333" >27</text>
<line x1="87.40" y1="1169.60" x2="87.40" y2="1171.40" stroke="#555" stroke-width="0.8"/>
<text x="87.40" y="1180.60" font-size="8.6" text-anchor="middle" font-weight="400" fill="#333" >-10</text>
<line x1="109.30" y1="1169.60" x2="109.30" y2="1171.40" stroke="#555" stroke-width="0.8"/>
<text x="109.30" y="1180.60" font-size="8.6" text-anchor="middle" font-weight="400" fill="#333" >-8</text>
<line x1="131.20" y1="1169.60" x2="131.20" y2="1171.40" stroke="#555" stroke-width="0.8"/>
<text x="131.20" y="1180.60" font-size="8.6" text-anchor="middle" font-weight="400" fill="#333" >-6</text>
<line x1="153.10" y1="1169.60" x2="153.10" y2="1171.40" stroke="#555" stroke-width="0.8"/>
<text x="153.10" y="1180.60" font-size="8.6" text-anchor="middle" font-weight="400" fill="#333" >-4</text>
<line x1="175.00" y1="1169.60" x2="175.00" y2="1171.40" stroke="#555" stroke-width="0.8"/>
<text x="175.00" y="1180.60" font-size="8.6" text-anchor="middle" font-weight="400" fill="#333" >-2</text>
<line x1="196.90" y1="1169.60" x2="196.90" y2="1171.40" stroke="#555" stroke-width="0.8"/>
<text x="196.90" y="1180.60" font-size="8.6" text-anchor="middle" font-weight="400" fill="#333" >0</text>
<line x1="218.80" y1="1169.60" x2="218.80" y2="1171.40" stroke="#555" stroke-width="0.8"/>
<text x="218.80" y="1180.60" font-size="8.6" text-anchor="middle" font-weight="400" fill="#333" >2</text>
<line x1="240.70" y1="1169.60" x2="240.70" y2="1171.40" stroke="#555" stroke-width="0.8"/>
<text x="240.70" y="1180.60" font-size="8.6" text-anchor="middle" font-weight="400" fill="#333" >4</text>
<line x1="262.60" y1="1169.60" x2="262.60" y2="1171.40" stroke="#555" stroke-width="0.8"/>
<text x="262.60" y="1180.60" font-size="8.6" text-anchor="middle" font-weight="400" fill="#333" >6</text>
<line x1="284.50" y1="1169.60" x2="284.50" y2="1171.40" stroke="#555" stroke-width="0.8"/>
<text x="284.50" y="1180.60" font-size="8.6" text-anchor="middle" font-weight="400" fill="#333" >8</text>
<line x1="306.40" y1="1169.60" x2="306.40" y2="1171.40" stroke="#555" stroke-width="0.8"/>
<text x="306.40" y="1180.60" font-size="8.6" text-anchor="middle" font-weight="400" fill="#333" >10</text>
<text x="196.90" y="1194.20" font-size="12" text-anchor="middle" font-weight="400" fill="#222" >log<tspan font-size="8.4" dy="3">2</tspan><tspan dy="-3">(Fold Change)</tspan></text>
<text transform="translate(67.70,1067.55) rotate(-90)" font-size="12" text-anchor="middle" fill="#222">-log<tspan font-size="8.4" dy="3">10</tspan><tspan dy="-3">(Pvalue)</tspan></text>
<line x1="681.40" y1="167.00" x2="681.40" y2="375.50" stroke="#d9d9d9" stroke-width="1"/>
<rect x="561.80" y="169.95" width="96.14" height="10.5" fill="#62d6ca"/>
<line x1="559.40" y1="175.20" x2="561.20" y2="175.20" stroke="#444" stroke-width="0.7"/>
<text x="558.20" y="178.10" font-size="8.32" text-anchor="end" font-weight="700" fill="#000" >Antigen processing and presentation</text>
<rect x="561.80" y="184.67" width="64.40" height="10.5" fill="#62d6ca"/>
<line x1="559.40" y1="189.92" x2="561.20" y2="189.92" stroke="#444" stroke-width="0.7"/>
<text x="558.20" y="192.82" font-size="8.32" text-anchor="end" font-weight="700" fill="#000" >Viral protein interaction with cytokine and cytokine receptor</text>
<rect x="561.80" y="199.39" width="57.96" height="10.5" fill="#62d6ca"/>
<line x1="559.40" y1="204.64" x2="561.20" y2="204.64" stroke="#444" stroke-width="0.7"/>
<text x="558.20" y="207.54" font-size="8.32" text-anchor="end" font-weight="700" fill="#000" >Chemokine signaling pathway</text>
<rect x="561.80" y="214.11" width="53.36" height="10.5" fill="#62d6ca"/>
<line x1="559.40" y1="219.36" x2="561.20" y2="219.36" stroke="#444" stroke-width="0.7"/>
<text x="558.20" y="222.26" font-size="8.32" text-anchor="end" font-weight="700" fill="#000" >Cytokine-cytokine receptor interaction</text>
<rect x="561.80" y="228.83" width="38.18" height="10.5" fill="#62d6ca"/>
<line x1="559.40" y1="234.08" x2="561.20" y2="234.08" stroke="#444" stroke-width="0.7"/>
<text x="558.20" y="236.98" font-size="8.32" text-anchor="end" font-weight="700" fill="#000" >Natural killer cell mediated cytotoxicity</text>
<rect x="561.80" y="243.55" width="37.26" height="10.5" fill="#62d6ca"/>
<line x1="559.40" y1="248.80" x2="561.20" y2="248.80" stroke="#444" stroke-width="0.7"/>
<text x="558.20" y="251.70" font-size="8.32" text-anchor="end" font-weight="700" fill="#000" >Influenza A</text>
<rect x="561.80" y="258.27" width="36.34" height="10.5" fill="#62d6ca"/>
<line x1="559.40" y1="263.52" x2="561.20" y2="263.52" stroke="#444" stroke-width="0.7"/>
<text x="558.20" y="266.42" font-size="8.32" text-anchor="end" font-weight="700" fill="#000" >TNF signaling pathway</text>
<rect x="561.80" y="272.99" width="32.06" height="10.5" fill="#62d6ca"/>
<line x1="559.40" y1="278.24" x2="561.20" y2="278.24" stroke="#444" stroke-width="0.7"/>
<text x="558.20" y="281.14" font-size="8.32" text-anchor="end" font-weight="700" fill="#000" >NF-kappa B signaling pathway</text>
<rect x="561.80" y="287.71" width="25.07" height="10.5" fill="#62d6ca"/>
<line x1="559.40" y1="292.96" x2="561.20" y2="292.96" stroke="#444" stroke-width="0.7"/>
<text x="558.20" y="295.86" font-size="8.32" text-anchor="end" font-weight="700" fill="#000" >B cell receptor signaling pathway</text>
<rect x="561.80" y="302.43" width="24.38" height="10.5" fill="#62d6ca"/>
<line x1="559.40" y1="307.68" x2="561.20" y2="307.68" stroke="#444" stroke-width="0.7"/>
<text x="558.20" y="310.58" font-size="8.32" text-anchor="end" font-weight="700" fill="#000" >Toll-like receptor signaling pathway</text>
<rect x="561.80" y="317.15" width="22.08" height="10.5" fill="#62d6ca"/>
<line x1="559.40" y1="322.40" x2="561.20" y2="322.40" stroke="#444" stroke-width="0.7"/>
<text x="558.20" y="325.30" font-size="8.32" text-anchor="end" font-weight="700" fill="#000" >Complement and coagulation cascades</text>
<rect x="561.80" y="331.87" width="17.71" height="10.5" fill="#62d6ca"/>
<line x1="559.40" y1="337.12" x2="561.20" y2="337.12" stroke="#444" stroke-width="0.7"/>
<text x="558.20" y="340.02" font-size="8.32" text-anchor="end" font-weight="700" fill="#000" >T cell receptor signaling pathway</text>
<rect x="561.80" y="346.59" width="11.96" height="10.5" fill="#62d6ca"/>
<line x1="559.40" y1="351.84" x2="561.20" y2="351.84" stroke="#444" stroke-width="0.7"/>
<text x="558.20" y="354.74" font-size="8.32" text-anchor="end" font-weight="700" fill="#000" >C-type lectin receptor signaling pathway</text>
<rect x="561.80" y="361.31" width="9.20" height="10.5" fill="#62d6ca"/>
<line x1="559.40" y1="366.56" x2="561.20" y2="366.56" stroke="#444" stroke-width="0.7"/>
<text x="558.20" y="369.46" font-size="8.32" text-anchor="end" font-weight="700" fill="#000" >IL-17 signaling pathway</text>
<circle cx="657.94" cy="175.20" r="5.50" fill="#000" fill-opacity="0.82"/>
<circle cx="626.20" cy="189.92" r="4.95" fill="#000" fill-opacity="0.82"/>
<circle cx="619.76" cy="204.64" r="5.50" fill="#000" fill-opacity="0.82"/>
<circle cx="615.16" cy="219.36" r="5.70" fill="#000" fill-opacity="0.82"/>
<circle cx="599.98" cy="234.08" r="4.45" fill="#000" fill-opacity="0.82"/>
<circle cx="599.06" cy="248.80" r="5.25" fill="#000" fill-opacity="0.82"/>
<circle cx="598.14" cy="263.52" r="4.55" fill="#000" fill-opacity="0.82"/>
<circle cx="593.86" cy="278.24" r="4.55" fill="#000" fill-opacity="0.82"/>
<circle cx="586.87" cy="292.96" r="4.20" fill="#000" fill-opacity="0.82"/>
<circle cx="586.18" cy="307.68" r="4.40" fill="#000" fill-opacity="0.82"/>
<circle cx="583.88" cy="322.40" r="4.20" fill="#000" fill-opacity="0.82"/>
<circle cx="579.51" cy="337.12" r="4.40" fill="#000" fill-opacity="0.82"/>
<circle cx="573.76" cy="351.84" r="4.10" fill="#000" fill-opacity="0.82"/>
<circle cx="571.00" cy="366.56" r="4.00" fill="#000" fill-opacity="0.82"/>
<line x1="561.80" y1="375.50" x2="681.40" y2="375.50" stroke="#333" stroke-width="1"/>
<line x1="561.80" y1="375.50" x2="561.80" y2="377.50" stroke="#333" stroke-width="0.7"/>
<text x="561.80" y="385.30" font-size="7" text-anchor="middle" font-weight="400" fill="#444" >0</text>
<line x1="584.80" y1="375.50" x2="584.80" y2="377.50" stroke="#333" stroke-width="0.7"/>
<text x="584.80" y="385.30" font-size="7" text-anchor="middle" font-weight="400" fill="#444" >5</text>
<line x1="607.80" y1="375.50" x2="607.80" y2="377.50" stroke="#333" stroke-width="0.7"/>
<text x="607.80" y="385.30" font-size="7" text-anchor="middle" font-weight="400" fill="#444" >10</text>
<line x1="630.80" y1="375.50" x2="630.80" y2="377.50" stroke="#333" stroke-width="0.7"/>
<text x="630.80" y="385.30" font-size="7" text-anchor="middle" font-weight="400" fill="#444" >15</text>
<line x1="653.80" y1="375.50" x2="653.80" y2="377.50" stroke="#333" stroke-width="0.7"/>
<text x="653.80" y="385.30" font-size="7" text-anchor="middle" font-weight="400" fill="#444" >20</text>
<line x1="676.80" y1="375.50" x2="676.80" y2="377.50" stroke="#333" stroke-width="0.7"/>
<text x="676.80" y="385.30" font-size="7" text-anchor="middle" font-weight="400" fill="#444" >25</text>
<text x="621.60" y="393.40" font-size="8.1" text-anchor="middle" font-weight="400" fill="#444" >−log<tspan font-size="5.6" dy="1.6">10</tspan><tspan dy="-1.6">(p.adjust)</tspan></text>
<line x1="681.40" y1="600.60" x2="681.40" y2="630.90" stroke="#d9d9d9" stroke-width="1"/>
<rect x="560.10" y="602.05" width="9.05" height="10.5" fill="#62d6ca"/>
<line x1="557.70" y1="607.30" x2="559.50" y2="607.30" stroke="#444" stroke-width="0.7"/>
<text x="556.50" y="610.20" font-size="8.32" text-anchor="end" font-weight="700" fill="#000" >TNF signaling pathway</text>
<rect x="560.10" y="617.25" width="9.05" height="10.5" fill="#62d6ca"/>
<line x1="557.70" y1="622.50" x2="559.50" y2="622.50" stroke="#444" stroke-width="0.7"/>
<text x="556.50" y="625.40" font-size="8.32" text-anchor="end" font-weight="700" fill="#000" >IL-17 signaling pathway</text>
<circle cx="569.15" cy="607.30" r="2.00" fill="#000" fill-opacity="0.82"/>
<circle cx="569.15" cy="622.50" r="2.00" fill="#000" fill-opacity="0.82"/>
<line x1="560.10" y1="630.90" x2="681.40" y2="630.90" stroke="#333" stroke-width="1"/>
<line x1="560.10" y1="630.90" x2="560.10" y2="632.90" stroke="#333" stroke-width="0.7"/>
<text x="560.10" y="640.70" font-size="7" text-anchor="middle" font-weight="400" fill="#444" >0</text>
<line x1="583.18" y1="630.90" x2="583.18" y2="632.90" stroke="#333" stroke-width="0.7"/>
<text x="583.18" y="640.70" font-size="7" text-anchor="middle" font-weight="400" fill="#444" >5</text>
<line x1="606.26" y1="630.90" x2="606.26" y2="632.90" stroke="#333" stroke-width="0.7"/>
<text x="606.26" y="640.70" font-size="7" text-anchor="middle" font-weight="400" fill="#444" >10</text>
<line x1="629.34" y1="630.90" x2="629.34" y2="632.90" stroke="#333" stroke-width="0.7"/>
<text x="629.34" y="640.70" font-size="7" text-anchor="middle" font-weight="400" fill="#444" >15</text>
<line x1="652.42" y1="630.90" x2="652.42" y2="632.90" stroke="#333" stroke-width="0.7"/>
<text x="652.42" y="640.70" font-size="7" text-anchor="middle" font-weight="400" fill="#444" >20</text>
<line x1="675.50" y1="630.90" x2="675.50" y2="632.90" stroke="#333" stroke-width="0.7"/>
<text x="675.50" y="640.70" font-size="7" text-anchor="middle" font-weight="400" fill="#444" >25</text>
<text x="620.11" y="648.80" font-size="8.1" text-anchor="middle" font-weight="400" fill="#444" >−log<tspan font-size="5.6" dy="1.6">10</tspan><tspan dy="-1.6">(p.adjust)</tspan></text>
<line x1="681.40" y1="690.00" x2="681.40" y2="890.80" stroke="#d9d9d9" stroke-width="1"/>
<rect x="565.60" y="691.45" width="81.33" height="10.5" fill="#ee7070"/>
<line x1="563.20" y1="696.70" x2="565.00" y2="696.70" stroke="#444" stroke-width="0.7"/>
<text x="562.00" y="699.60" font-size="8.32" text-anchor="end" font-weight="700" fill="#000" >Antigen processing and presentation</text>
<rect x="565.60" y="705.73" width="41.77" height="10.5" fill="#ee7070"/>
<line x1="563.20" y1="710.98" x2="565.00" y2="710.98" stroke="#444" stroke-width="0.7"/>
<text x="562.00" y="713.88" font-size="8.32" text-anchor="end" font-weight="700" fill="#000" >Chemokine signaling pathway</text>
<rect x="565.60" y="720.01" width="37.35" height="10.5" fill="#ee7070"/>
<line x1="563.20" y1="725.26" x2="565.00" y2="725.26" stroke="#444" stroke-width="0.7"/>
<text x="562.00" y="728.16" font-size="8.32" text-anchor="end" font-weight="700" fill="#000" >Viral protein interaction with cytokine and cytokine receptor</text>
<rect x="565.60" y="734.29" width="37.13" height="10.5" fill="#ee7070"/>
<line x1="563.20" y1="739.54" x2="565.00" y2="739.54" stroke="#444" stroke-width="0.7"/>
<text x="562.00" y="742.44" font-size="8.32" text-anchor="end" font-weight="700" fill="#000" >Influenza A</text>
<rect x="565.60" y="748.57" width="36.91" height="10.5" fill="#ee7070"/>
<line x1="563.20" y1="753.82" x2="565.00" y2="753.82" stroke="#444" stroke-width="0.7"/>
<text x="562.00" y="756.72" font-size="8.32" text-anchor="end" font-weight="700" fill="#000" >Toll-like receptor signaling pathway</text>
<rect x="565.60" y="762.85" width="32.93" height="10.5" fill="#ee7070"/>
<line x1="563.20" y1="768.10" x2="565.00" y2="768.10" stroke="#444" stroke-width="0.7"/>
<text x="562.00" y="771.00" font-size="8.32" text-anchor="end" font-weight="700" fill="#000" >Cytokine-cytokine receptor interaction</text>
<rect x="565.60" y="777.13" width="24.09" height="10.5" fill="#ee7070"/>
<line x1="563.20" y1="782.38" x2="565.00" y2="782.38" stroke="#444" stroke-width="0.7"/>
<text x="562.00" y="785.28" font-size="8.32" text-anchor="end" font-weight="700" fill="#000" >RIG-I-like receptor signaling pathway</text>
<rect x="565.60" y="791.41" width="23.87" height="10.5" fill="#ee7070"/>
<line x1="563.20" y1="796.66" x2="565.00" y2="796.66" stroke="#444" stroke-width="0.7"/>
<text x="562.00" y="799.56" font-size="8.32" text-anchor="end" font-weight="700" fill="#000" >TNF signaling pathway</text>
<rect x="565.60" y="805.69" width="22.10" height="10.5" fill="#ee7070"/>
<line x1="563.20" y1="810.94" x2="565.00" y2="810.94" stroke="#444" stroke-width="0.7"/>
<text x="562.00" y="813.84" font-size="8.32" text-anchor="end" font-weight="700" fill="#000" >NF-kappa B signaling pathway</text>
<rect x="565.60" y="819.97" width="15.69" height="10.5" fill="#ee7070"/>
<line x1="563.20" y1="825.22" x2="565.00" y2="825.22" stroke="#444" stroke-width="0.7"/>
<text x="562.00" y="828.12" font-size="8.32" text-anchor="end" font-weight="700" fill="#000" >C-type lectin receptor signaling pathway</text>
<rect x="565.60" y="834.25" width="14.59" height="10.5" fill="#ee7070"/>
<line x1="563.20" y1="839.50" x2="565.00" y2="839.50" stroke="#444" stroke-width="0.7"/>
<text x="562.00" y="842.40" font-size="8.32" text-anchor="end" font-weight="700" fill="#000" >T cell receptor signaling pathway</text>
<rect x="565.60" y="848.53" width="14.59" height="10.5" fill="#ee7070"/>
<line x1="563.20" y1="853.78" x2="565.00" y2="853.78" stroke="#444" stroke-width="0.7"/>
<text x="562.00" y="856.68" font-size="8.32" text-anchor="end" font-weight="700" fill="#000" >Complement and coagulation cascades</text>
<rect x="565.60" y="862.81" width="6.41" height="10.5" fill="#ee7070"/>
<line x1="563.20" y1="868.06" x2="565.00" y2="868.06" stroke="#444" stroke-width="0.7"/>
<text x="562.00" y="870.96" font-size="8.32" text-anchor="end" font-weight="700" fill="#000" >B cell receptor signaling pathway</text>
<rect x="565.60" y="877.09" width="6.41" height="10.5" fill="#ee7070"/>
<line x1="563.20" y1="882.34" x2="565.00" y2="882.34" stroke="#444" stroke-width="0.7"/>
<text x="562.00" y="885.24" font-size="8.32" text-anchor="end" font-weight="700" fill="#000" >IL-17 signaling pathway</text>
<circle cx="646.93" cy="696.70" r="5.60" fill="#000" fill-opacity="0.82"/>
<circle cx="607.37" cy="710.98" r="5.80" fill="#000" fill-opacity="0.82"/>
<circle cx="602.95" cy="725.26" r="4.85" fill="#000" fill-opacity="0.82"/>
<circle cx="602.73" cy="739.54" r="5.90" fill="#000" fill-opacity="0.82"/>
<circle cx="602.51" cy="753.82" r="5.00" fill="#000" fill-opacity="0.82"/>
<circle cx="598.53" cy="768.10" r="5.85" fill="#000" fill-opacity="0.82"/>
<circle cx="589.69" cy="782.38" r="4.10" fill="#000" fill-opacity="0.82"/>
<circle cx="589.47" cy="796.66" r="4.65" fill="#000" fill-opacity="0.82"/>
<circle cx="587.70" cy="810.94" r="4.65" fill="#000" fill-opacity="0.82"/>
<circle cx="581.29" cy="825.22" r="4.55" fill="#000" fill-opacity="0.82"/>
<circle cx="580.19" cy="839.50" r="4.55" fill="#000" fill-opacity="0.82"/>
<circle cx="580.19" cy="853.78" r="4.25" fill="#000" fill-opacity="0.82"/>
<circle cx="572.01" cy="868.06" r="3.50" fill="#000" fill-opacity="0.82"/>
<circle cx="572.01" cy="882.34" r="3.75" fill="#000" fill-opacity="0.82"/>
<line x1="565.60" y1="890.80" x2="681.40" y2="890.80" stroke="#333" stroke-width="1"/>
<line x1="565.60" y1="890.80" x2="565.60" y2="892.80" stroke="#333" stroke-width="0.7"/>
<text x="565.60" y="900.60" font-size="7" text-anchor="middle" font-weight="400" fill="#444" >0</text>
<line x1="587.70" y1="890.80" x2="587.70" y2="892.80" stroke="#333" stroke-width="0.7"/>
<text x="587.70" y="900.60" font-size="7" text-anchor="middle" font-weight="400" fill="#444" >5</text>
<line x1="609.80" y1="890.80" x2="609.80" y2="892.80" stroke="#333" stroke-width="0.7"/>
<text x="609.80" y="900.60" font-size="7" text-anchor="middle" font-weight="400" fill="#444" >10</text>
<line x1="631.90" y1="890.80" x2="631.90" y2="892.80" stroke="#333" stroke-width="0.7"/>
<text x="631.90" y="900.60" font-size="7" text-anchor="middle" font-weight="400" fill="#444" >15</text>
<line x1="654.00" y1="890.80" x2="654.00" y2="892.80" stroke="#333" stroke-width="0.7"/>
<text x="654.00" y="900.60" font-size="7" text-anchor="middle" font-weight="400" fill="#444" >20</text>
<line x1="676.10" y1="890.80" x2="676.10" y2="892.80" stroke="#333" stroke-width="0.7"/>
<text x="676.10" y="900.60" font-size="7" text-anchor="middle" font-weight="400" fill="#444" >25</text>
<text x="623.06" y="908.70" font-size="8.1" text-anchor="middle" font-weight="400" fill="#444" >−log<tspan font-size="5.6" dy="1.6">10</tspan><tspan dy="-1.6">(p.adjust)</tspan></text>
<line x1="681.80" y1="1152.70" x2="681.80" y2="1167.90" stroke="#d9d9d9" stroke-width="1"/>
<rect x="562.60" y="1154.35" width="11.80" height="10.5" fill="#ee7070"/>
<line x1="560.20" y1="1159.60" x2="562.00" y2="1159.60" stroke="#444" stroke-width="0.7"/>
<text x="559.00" y="1162.50" font-size="8.32" text-anchor="end" font-weight="700" fill="#000" >Viral protein interaction with cytokine and cytokine receptor</text>
<circle cx="574.40" cy="1159.60" r="3.60" fill="#000" fill-opacity="0.82"/>
<line x1="562.60" y1="1167.90" x2="681.80" y2="1167.90" stroke="#333" stroke-width="1"/>
<line x1="562.60" y1="1167.90" x2="562.60" y2="1169.90" stroke="#333" stroke-width="0.7"/>
<text x="562.60" y="1177.70" font-size="7" text-anchor="middle" font-weight="400" fill="#444" >0</text>
<line x1="585.30" y1="1167.90" x2="585.30" y2="1169.90" stroke="#333" stroke-width="0.7"/>
<text x="585.30" y="1177.70" font-size="7" text-anchor="middle" font-weight="400" fill="#444" >5</text>
<line x1="608.00" y1="1167.90" x2="608.00" y2="1169.90" stroke="#333" stroke-width="0.7"/>
<text x="608.00" y="1177.70" font-size="7" text-anchor="middle" font-weight="400" fill="#444" >10</text>
<line x1="630.70" y1="1167.90" x2="630.70" y2="1169.90" stroke="#333" stroke-width="0.7"/>
<text x="630.70" y="1177.70" font-size="7" text-anchor="middle" font-weight="400" fill="#444" >15</text>
<line x1="653.40" y1="1167.90" x2="653.40" y2="1169.90" stroke="#333" stroke-width="0.7"/>
<text x="653.40" y="1177.70" font-size="7" text-anchor="middle" font-weight="400" fill="#444" >20</text>
<line x1="676.10" y1="1167.90" x2="676.10" y2="1169.90" stroke="#333" stroke-width="0.7"/>
<text x="676.10" y="1177.70" font-size="7" text-anchor="middle" font-weight="400" fill="#444" >25</text>
<text x="621.62" y="1185.80" font-size="8.1" text-anchor="middle" font-weight="400" fill="#444" >−log<tspan font-size="5.6" dy="1.6">10</tspan><tspan dy="-1.6">(p.adjust)</tspan></text>
<text x="643.20" y="987.70" font-size="7.4" text-anchor="start" font-weight="400" fill="#222" >Count</text>
<circle cx="650.9" cy="996.9" r="3.45" fill="#333"/>
<text x="662.40" y="999.30" font-size="6.6" text-anchor="start" font-weight="400" fill="#333" >10</text>
<circle cx="650.9" cy="1007.2" r="4.35" fill="#333"/>
<text x="662.40" y="1009.60" font-size="6.6" text-anchor="start" font-weight="400" fill="#333" >20</text>
<circle cx="650.9" cy="1018.1" r="5.2" fill="#333"/>
<text x="662.40" y="1020.50" font-size="6.6" text-anchor="start" font-weight="400" fill="#333" >30</text>
<circle cx="650.9" cy="1030.4" r="5.5" fill="#333"/>
<text x="662.40" y="1032.80" font-size="6.6" text-anchor="start" font-weight="400" fill="#333" >40</text>
<circle cx="650.9" cy="1044" r="6.1" fill="#333"/>
<text x="662.40" y="1046.40" font-size="6.6" text-anchor="start" font-weight="400" fill="#333" >50</text>
<circle cx="650.9" cy="1058.7" r="6.35" fill="#333"/>
<text x="662.40" y="1061.10" font-size="6.6" text-anchor="start" font-weight="400" fill="#333" >60</text>
<text x="643.70" y="1084.50" font-size="7.2" text-anchor="start" font-weight="400" fill="#222" >Regulation</text>
<rect x="644.3" y="1089.1" width="12.2" height="8.7" fill="#ee7070"/>
<rect x="644.3" y="1099" width="12.2" height="8.7" fill="#62d6ca"/>
<text x="660.80" y="1095.60" font-size="6.6" text-anchor="start" font-weight="400" fill="#333" >Up</text>
<text x="660.80" y="1105.70" font-size="6.6" text-anchor="start" font-weight="400" fill="#333" >Down</text>
<rect x="87.6" y="966.3" width="76" height="50" fill="#fff" fill-opacity="0.75"/>
<circle cx="96" cy="977.6" r="2.6" fill="#66c5d6" fill-opacity="0.85"/>
<text x="102.70" y="980.40" font-size="9.4" text-anchor="start" font-weight="400" fill="#222" >Down regulated</text>
<circle cx="96" cy="993.1" r="2.6" fill="#bdbdbd" fill-opacity="0.85"/>
<text x="102.70" y="995.90" font-size="9.4" text-anchor="start" font-weight="400" fill="#222" >Not significant</text>
<circle cx="96" cy="1008.7" r="2.6" fill="#e8876e" fill-opacity="0.85"/>
<text x="102.70" y="1011.50" font-size="9.4" text-anchor="start" font-weight="400" fill="#222" >Up regulated</text>
</svg></body></html>
